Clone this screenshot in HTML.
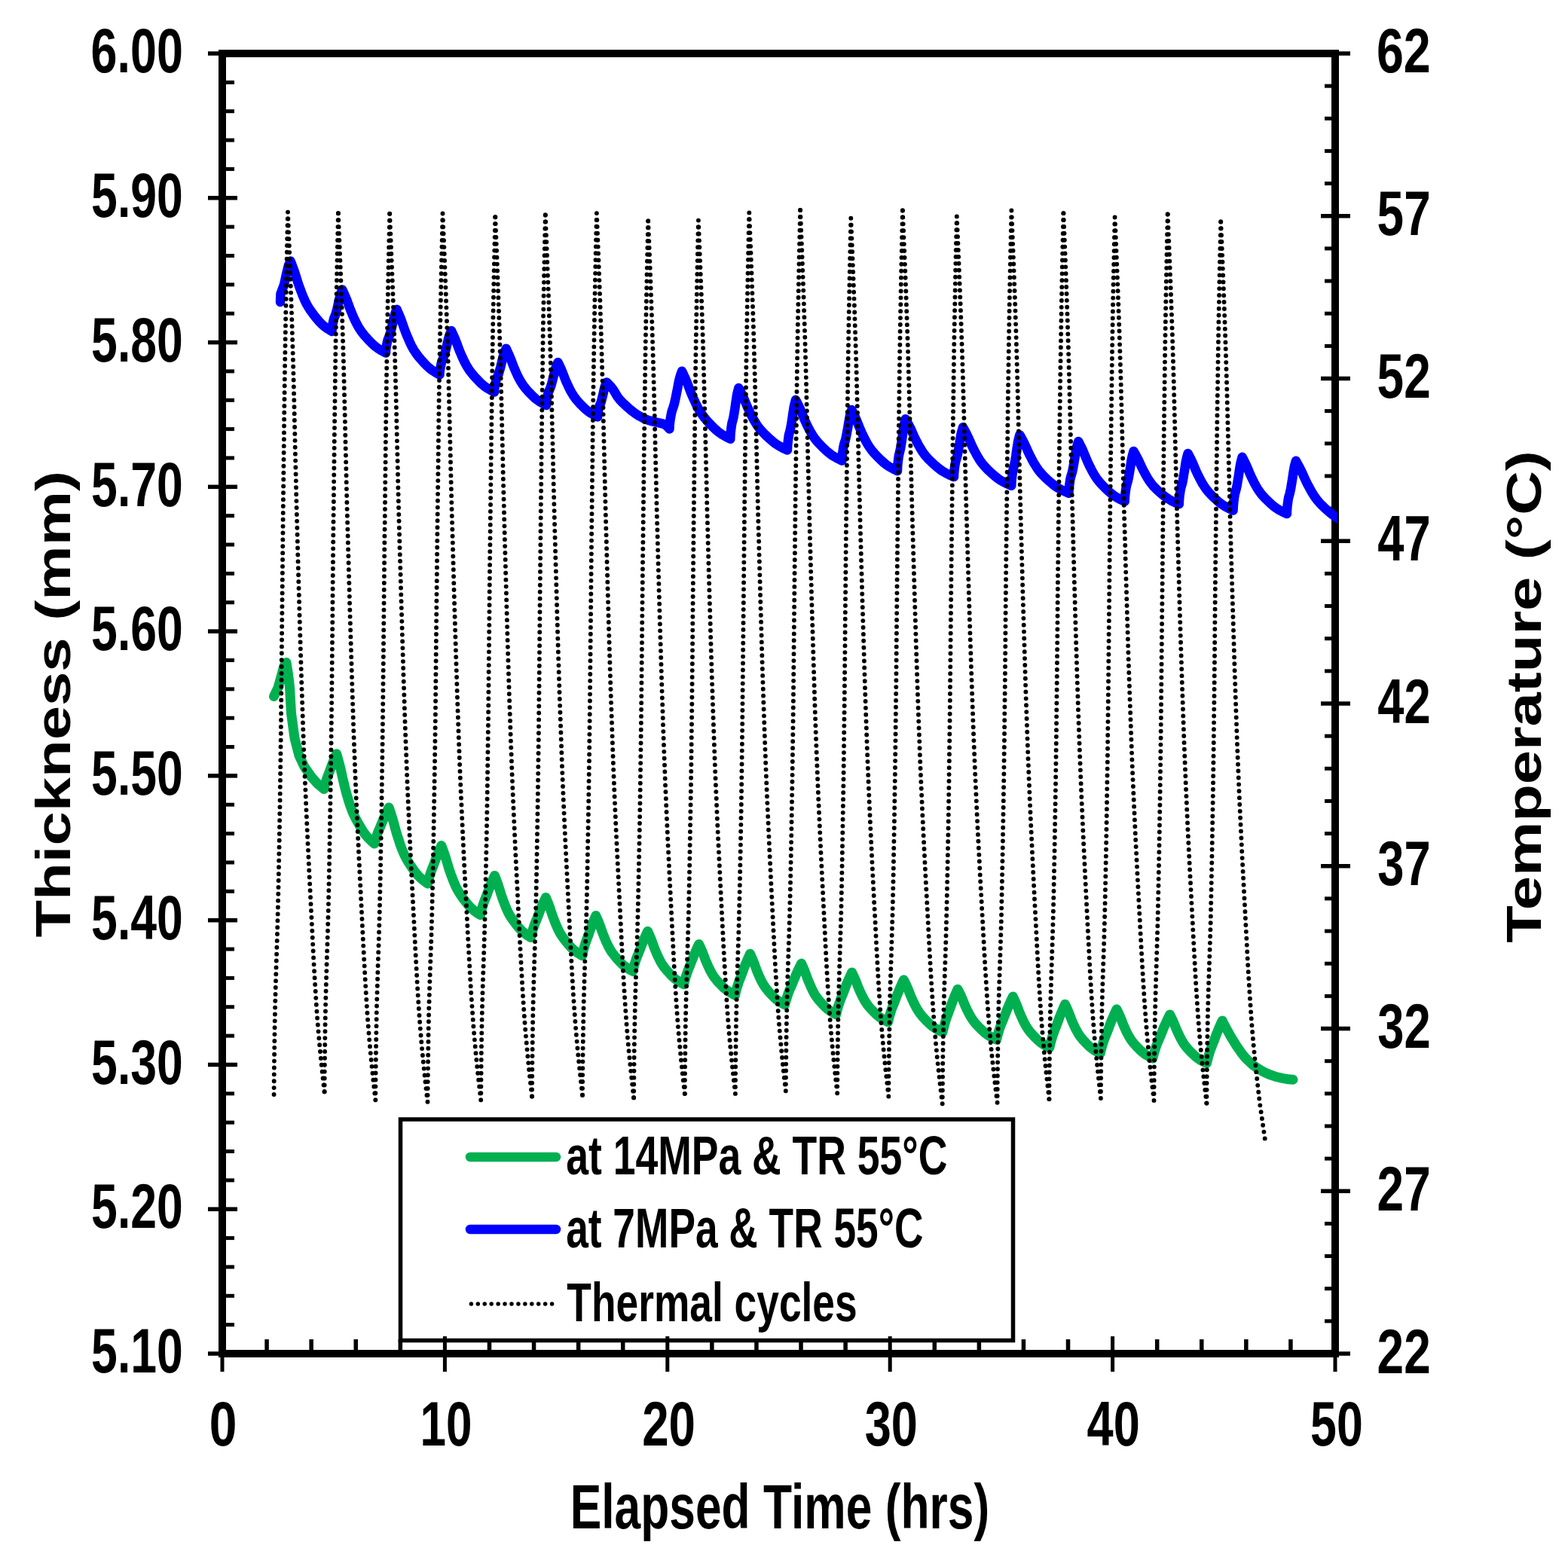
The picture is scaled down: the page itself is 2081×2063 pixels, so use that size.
<!DOCTYPE html>
<html><head><meta charset="utf-8"><title>Thickness vs Elapsed Time</title>
<style>html,body{margin:0;padding:0;background:#fff;overflow:hidden}svg{display:block}</style></head><body>
<svg width="2081" height="2063" viewBox="0 0 2081 2063">
<rect width="2081" height="2063" fill="#fff"/>
<defs><clipPath id="pc"><rect x="295" y="71" width="1479.7" height="1726"/></clipPath></defs>
<rect x="295.0" y="71.0" width="1477.0" height="1726.0" fill="none" stroke="#000" stroke-width="10"/>
<g fill="#000">
<rect x="276" y="68.25" width="39" height="5.5"/>
<rect x="276" y="260.03" width="39" height="5.5"/>
<rect x="276" y="451.81" width="39" height="5.5"/>
<rect x="276" y="643.58" width="39" height="5.5"/>
<rect x="276" y="835.36" width="39" height="5.5"/>
<rect x="276" y="1027.14" width="39" height="5.5"/>
<rect x="276" y="1218.92" width="39" height="5.5"/>
<rect x="276" y="1410.69" width="39" height="5.5"/>
<rect x="276" y="1602.47" width="39" height="5.5"/>
<rect x="276" y="1794.25" width="39" height="5.5"/>
<rect x="295" y="106.86" width="16" height="5"/>
<rect x="295" y="145.21" width="16" height="5"/>
<rect x="295" y="183.57" width="16" height="5"/>
<rect x="295" y="221.92" width="16" height="5"/>
<rect x="295" y="298.63" width="16" height="5"/>
<rect x="295" y="336.99" width="16" height="5"/>
<rect x="295" y="375.34" width="16" height="5"/>
<rect x="295" y="413.70" width="16" height="5"/>
<rect x="295" y="490.41" width="16" height="5"/>
<rect x="295" y="528.77" width="16" height="5"/>
<rect x="295" y="567.12" width="16" height="5"/>
<rect x="295" y="605.48" width="16" height="5"/>
<rect x="295" y="682.19" width="16" height="5"/>
<rect x="295" y="720.54" width="16" height="5"/>
<rect x="295" y="758.90" width="16" height="5"/>
<rect x="295" y="797.26" width="16" height="5"/>
<rect x="295" y="873.97" width="16" height="5"/>
<rect x="295" y="912.32" width="16" height="5"/>
<rect x="295" y="950.68" width="16" height="5"/>
<rect x="295" y="989.03" width="16" height="5"/>
<rect x="295" y="1065.74" width="16" height="5"/>
<rect x="295" y="1104.10" width="16" height="5"/>
<rect x="295" y="1142.46" width="16" height="5"/>
<rect x="295" y="1180.81" width="16" height="5"/>
<rect x="295" y="1257.52" width="16" height="5"/>
<rect x="295" y="1295.88" width="16" height="5"/>
<rect x="295" y="1334.23" width="16" height="5"/>
<rect x="295" y="1372.59" width="16" height="5"/>
<rect x="295" y="1449.30" width="16" height="5"/>
<rect x="295" y="1487.66" width="16" height="5"/>
<rect x="295" y="1526.01" width="16" height="5"/>
<rect x="295" y="1564.37" width="16" height="5"/>
<rect x="295" y="1641.08" width="16" height="5"/>
<rect x="295" y="1679.43" width="16" height="5"/>
<rect x="295" y="1717.79" width="16" height="5"/>
<rect x="295" y="1756.14" width="16" height="5"/>
<rect x="1753" y="68.25" width="39" height="5.5"/>
<rect x="1753" y="284.00" width="39" height="5.5"/>
<rect x="1753" y="499.75" width="39" height="5.5"/>
<rect x="1753" y="715.50" width="39" height="5.5"/>
<rect x="1753" y="931.25" width="39" height="5.5"/>
<rect x="1753" y="1147.00" width="39" height="5.5"/>
<rect x="1753" y="1362.75" width="39" height="5.5"/>
<rect x="1753" y="1578.50" width="39" height="5.5"/>
<rect x="1753" y="1794.25" width="39" height="5.5"/>
<rect x="1758" y="111.65" width="14" height="5"/>
<rect x="1758" y="154.80" width="14" height="5"/>
<rect x="1758" y="197.95" width="14" height="5"/>
<rect x="1758" y="241.10" width="14" height="5"/>
<rect x="1758" y="327.40" width="14" height="5"/>
<rect x="1758" y="370.55" width="14" height="5"/>
<rect x="1758" y="413.70" width="14" height="5"/>
<rect x="1758" y="456.85" width="14" height="5"/>
<rect x="1758" y="543.15" width="14" height="5"/>
<rect x="1758" y="586.30" width="14" height="5"/>
<rect x="1758" y="629.45" width="14" height="5"/>
<rect x="1758" y="672.60" width="14" height="5"/>
<rect x="1758" y="758.90" width="14" height="5"/>
<rect x="1758" y="802.05" width="14" height="5"/>
<rect x="1758" y="845.20" width="14" height="5"/>
<rect x="1758" y="888.35" width="14" height="5"/>
<rect x="1758" y="974.65" width="14" height="5"/>
<rect x="1758" y="1017.80" width="14" height="5"/>
<rect x="1758" y="1060.95" width="14" height="5"/>
<rect x="1758" y="1104.10" width="14" height="5"/>
<rect x="1758" y="1190.40" width="14" height="5"/>
<rect x="1758" y="1233.55" width="14" height="5"/>
<rect x="1758" y="1276.70" width="14" height="5"/>
<rect x="1758" y="1319.85" width="14" height="5"/>
<rect x="1758" y="1406.15" width="14" height="5"/>
<rect x="1758" y="1449.30" width="14" height="5"/>
<rect x="1758" y="1492.45" width="14" height="5"/>
<rect x="1758" y="1535.60" width="14" height="5"/>
<rect x="1758" y="1621.90" width="14" height="5"/>
<rect x="1758" y="1665.05" width="14" height="5"/>
<rect x="1758" y="1708.20" width="14" height="5"/>
<rect x="1758" y="1751.35" width="14" height="5"/>
</g>
<g clip-path="url(#pc)" fill="none" stroke-linejoin="round">
<path d="M372.0,401.0 L372.5,390.0 L377.0,378.0 L380.0,364.0 L383.0,352.0 L385.5,346.5 L386.8,349.7 L388.0,352.9 L389.2,356.2 L390.4,359.4 L391.5,362.6 L392.5,365.8 L393.5,369.1 L394.5,372.3 L395.5,375.5 L396.6,378.7 L397.8,382.0 L399.0,385.2 L400.2,388.4 L401.4,391.6 L402.8,394.9 L404.2,398.1 L405.7,401.3 L407.4,404.5 L409.3,407.8 L411.3,411.0 L413.6,414.2 L416.0,417.4 L418.5,420.7 L421.1,423.9 L423.9,427.1 L427.1,430.3 L430.8,433.6 L435.4,436.8 L440.5,440.0 L440.6,437.1 L440.9,434.2 L441.4,431.2 L441.9,428.3 L442.5,425.4 L443.3,422.5 L444.5,419.6 L445.6,416.6 L446.4,413.7 L447.2,410.8 L447.9,407.9 L448.5,404.9 L449.2,402.0 L449.8,399.1 L450.5,396.2 L451.2,393.3 L452.1,390.3 L453.1,387.4 L454.3,384.5 L455.6,387.4 L456.9,390.3 L458.2,393.2 L459.4,396.1 L460.6,399.0 L461.6,401.9 L462.7,404.8 L463.7,407.7 L464.8,410.6 L466.0,413.5 L467.2,416.4 L468.4,419.3 L469.7,422.2 L471.0,425.1 L472.4,427.9 L473.9,430.8 L475.5,433.7 L477.3,436.6 L479.2,439.5 L481.4,442.4 L483.7,445.3 L486.3,448.2 L488.9,451.1 L491.7,454.0 L494.6,456.9 L497.9,459.8 L501.9,462.7 L506.6,465.6 L512.0,468.5 L512.1,465.5 L512.4,462.4 L512.9,459.4 L513.5,456.3 L514.1,453.3 L515.0,450.2 L516.2,447.2 L517.4,444.2 L518.3,441.1 L519.1,438.1 L519.8,435.0 L520.5,432.0 L521.2,429.0 L521.9,425.9 L522.6,422.9 L523.3,419.8 L524.2,416.8 L525.3,413.7 L526.6,410.7 L527.9,413.7 L529.2,416.7 L530.5,419.7 L531.7,422.7 L532.8,425.7 L533.8,428.7 L534.9,431.7 L535.9,434.6 L537.0,437.6 L538.1,440.6 L539.3,443.6 L540.5,446.6 L541.8,449.6 L543.1,452.6 L544.5,455.6 L545.9,458.6 L547.5,461.6 L549.2,464.6 L551.2,467.6 L553.3,470.6 L555.6,473.6 L558.1,476.5 L560.7,479.5 L563.4,482.5 L566.3,485.5 L569.6,488.5 L573.5,491.5 L578.2,494.5 L583.5,497.5 L583.6,494.4 L584.0,491.3 L584.5,488.3 L585.1,485.2 L585.7,482.1 L586.7,479.0 L588.0,475.9 L589.2,472.9 L590.2,469.8 L591.0,466.7 L591.8,463.6 L592.5,460.6 L593.3,457.5 L594.0,454.4 L594.7,451.3 L595.5,448.2 L596.5,445.2 L597.7,442.1 L599.0,439.0 L600.3,441.8 L601.6,444.6 L602.9,447.4 L604.1,450.2 L605.2,453.1 L606.3,455.9 L607.3,458.7 L608.3,461.5 L609.4,464.3 L610.5,467.1 L611.7,469.9 L612.9,472.7 L614.2,475.5 L615.5,478.3 L616.9,481.2 L618.4,484.0 L620.0,486.8 L621.7,489.6 L623.6,492.4 L625.8,495.2 L628.1,498.0 L630.6,500.8 L633.2,503.6 L635.9,506.4 L638.8,509.3 L642.1,512.1 L646.0,514.9 L650.7,517.7 L656.0,520.5 L656.1,517.5 L656.5,514.4 L657.0,511.4 L657.6,508.3 L658.3,505.3 L659.2,502.2 L660.5,499.2 L661.8,496.2 L662.7,493.1 L663.6,490.1 L664.4,487.0 L665.1,484.0 L665.9,481.0 L666.6,477.9 L667.3,474.9 L668.2,471.8 L669.1,468.8 L670.3,465.7 L671.7,462.7 L672.9,465.3 L674.1,467.9 L675.3,470.5 L676.4,473.1 L677.5,475.7 L678.5,478.3 L679.5,480.9 L680.4,483.5 L681.4,486.1 L682.5,488.7 L683.6,491.3 L684.7,493.9 L685.9,496.5 L687.1,499.1 L688.4,501.6 L689.8,504.2 L691.3,506.8 L692.9,509.4 L694.7,512.0 L696.7,514.6 L698.9,517.2 L701.2,519.8 L703.7,522.4 L706.2,525.0 L708.9,527.6 L712.0,530.2 L715.6,532.8 L720.0,535.4 L725.0,538.0 L725.1,535.0 L725.5,532.0 L726.0,529.0 L726.6,526.0 L727.2,523.0 L728.2,520.0 L729.5,517.0 L730.7,514.0 L731.7,511.0 L732.5,508.0 L733.3,505.0 L734.0,502.0 L734.8,499.0 L735.5,496.0 L736.2,493.0 L737.0,490.0 L738.0,487.0 L739.2,484.0 L740.5,481.0 L741.7,483.5 L742.9,486.0 L744.1,488.5 L745.2,491.0 L746.2,493.5 L747.2,496.0 L748.2,498.5 L749.1,501.0 L750.1,503.5 L751.1,506.0 L752.3,508.5 L753.4,511.0 L754.6,513.5 L755.8,516.0 L757.0,518.4 L758.4,520.9 L759.9,523.4 L761.5,525.9 L763.3,528.4 L765.2,530.9 L767.4,533.4 L769.7,535.9 L772.1,538.4 L774.6,540.9 L777.3,543.4 L780.4,545.9 L783.9,548.4 L788.3,550.9 L793.2,553.4 L793.3,551.0 L793.6,548.6 L793.9,546.2 L794.4,543.7 L794.9,541.3 L795.6,538.9 L796.6,536.5 L797.6,534.1 L798.3,531.7 L798.9,529.2 L799.5,526.8 L800.1,524.4 L800.7,522.0 L801.2,519.6 L801.7,517.2 L802.3,514.7 L803.1,512.3 L804.0,509.9 L805.0,507.5 L807.1,509.4 L809.3,511.6 L811.4,514.0 L813.6,516.8 L815.7,520.1 L817.8,523.8 L820.0,527.3 L822.1,530.1 L824.3,532.4 L826.4,534.6 L828.6,536.6 L830.7,538.6 L832.8,540.6 L835.0,542.5 L837.1,544.3 L839.3,546.0 L841.4,547.6 L843.5,549.1 L845.7,550.6 L847.8,551.9 L850.0,553.1 L852.1,554.3 L854.2,555.4 L856.4,556.4 L858.5,557.2 L860.7,558.0 L862.8,558.6 L864.9,559.2 L867.1,559.8 L869.2,560.2 L871.4,560.7 L873.5,561.1 L875.7,561.6 L877.8,562.2 L879.9,562.7 L882.1,563.5 L884.2,564.9 L886.4,567.0 L888.5,569.5 L888.6,565.5 L889.0,561.4 L889.5,557.4 L890.2,553.3 L890.9,549.3 L891.9,545.2 L893.3,541.2 L894.6,537.2 L895.6,533.1 L896.5,529.1 L897.3,525.0 L898.1,521.0 L898.9,517.0 L899.7,512.9 L900.4,508.9 L901.3,504.8 L902.3,500.8 L903.6,496.7 L905.0,492.7 L906.5,495.8 L907.9,498.9 L909.4,502.0 L910.7,505.1 L912.0,508.2 L913.2,511.3 L914.4,514.4 L915.5,517.6 L916.7,520.7 L918.0,523.8 L919.3,526.9 L920.7,530.0 L922.2,533.1 L923.6,536.2 L925.2,539.3 L926.8,542.4 L928.6,545.5 L930.6,548.6 L932.8,551.7 L935.2,554.8 L937.8,557.9 L940.6,561.1 L943.6,564.2 L946.6,567.3 L949.9,570.4 L953.6,573.5 L958.0,576.6 L963.3,579.7 L969.3,582.8 L969.4,579.2 L969.6,575.7 L970.0,572.1 L970.4,568.5 L970.9,565.0 L971.5,561.4 L972.5,557.8 L973.4,554.3 L974.0,550.7 L974.6,547.1 L975.2,543.5 L975.7,540.0 L976.2,536.4 L976.7,532.8 L977.3,529.3 L977.8,525.7 L978.5,522.1 L979.4,518.6 L980.3,515.0 L981.8,517.8 L983.3,520.7 L984.7,523.5 L986.0,526.4 L987.3,529.2 L988.5,532.1 L989.7,534.9 L990.9,537.8 L992.1,540.6 L993.4,543.4 L994.7,546.3 L996.1,549.1 L997.6,552.0 L999.0,554.8 L1000.6,557.7 L1002.3,560.5 L1004.1,563.4 L1006.0,566.2 L1008.2,569.1 L1010.7,571.9 L1013.3,574.7 L1016.1,577.6 L1019.1,580.4 L1022.2,583.3 L1025.5,586.1 L1029.2,589.0 L1033.6,591.8 L1038.9,594.7 L1045.0,597.5 L1045.1,594.0 L1045.3,590.5 L1045.7,587.0 L1046.1,583.5 L1046.6,579.9 L1047.2,576.4 L1048.2,572.9 L1049.1,569.4 L1049.7,565.9 L1050.3,562.4 L1050.9,558.9 L1051.4,555.4 L1051.9,551.9 L1052.4,548.4 L1053.0,544.8 L1053.5,541.3 L1054.2,537.8 L1055.1,534.3 L1056.0,530.8 L1057.4,533.6 L1058.8,536.4 L1060.2,539.1 L1061.5,541.9 L1062.7,544.7 L1063.8,547.5 L1064.9,550.3 L1066.1,553.1 L1067.2,555.8 L1068.4,558.6 L1069.7,561.4 L1071.0,564.2 L1072.4,567.0 L1073.8,569.8 L1075.3,572.5 L1076.9,575.3 L1078.6,578.1 L1080.5,580.9 L1082.6,583.7 L1084.9,586.5 L1087.4,589.2 L1090.1,592.0 L1092.9,594.8 L1095.8,597.6 L1099.0,600.4 L1102.5,603.2 L1106.7,605.9 L1111.7,608.7 L1117.5,611.5 L1117.6,607.9 L1117.9,604.4 L1118.3,600.8 L1118.8,597.3 L1119.3,593.7 L1120.1,590.2 L1121.2,586.6 L1122.2,583.1 L1123.0,579.5 L1123.7,576.0 L1124.3,572.4 L1125.0,568.9 L1125.6,565.3 L1126.2,561.8 L1126.8,558.2 L1127.4,554.7 L1128.2,551.1 L1129.2,547.6 L1130.3,544.0 L1131.7,546.8 L1133.1,549.6 L1134.4,552.4 L1135.7,555.2 L1136.9,558.0 L1138.0,560.8 L1139.1,563.6 L1140.2,566.4 L1141.4,569.2 L1142.6,572.0 L1143.8,574.8 L1145.2,577.6 L1146.5,580.4 L1147.9,583.2 L1149.4,586.0 L1150.9,588.8 L1152.6,591.6 L1154.5,594.4 L1156.5,597.2 L1158.8,600.0 L1161.3,602.8 L1163.9,605.6 L1166.7,608.4 L1169.6,611.2 L1172.7,614.0 L1176.2,616.8 L1180.3,619.6 L1185.3,622.4 L1191.0,625.2 L1191.1,621.6 L1191.3,617.9 L1191.7,614.3 L1192.1,610.7 L1192.6,607.0 L1193.2,603.4 L1194.1,599.8 L1195.0,596.1 L1195.6,592.5 L1196.2,588.9 L1196.8,585.3 L1197.3,581.6 L1197.8,578.0 L1198.3,574.4 L1198.8,570.7 L1199.4,567.1 L1200.0,563.5 L1200.9,559.8 L1201.8,556.2 L1203.3,558.8 L1204.7,561.5 L1206.1,564.1 L1207.5,566.8 L1208.8,569.4 L1210.0,572.1 L1211.1,574.7 L1212.3,577.4 L1213.5,580.0 L1214.8,582.7 L1216.1,585.3 L1217.5,588.0 L1218.9,590.6 L1220.4,593.3 L1222.0,595.9 L1223.6,598.6 L1225.4,601.2 L1227.3,603.9 L1229.5,606.5 L1231.9,609.2 L1234.6,611.8 L1237.4,614.5 L1240.3,617.1 L1243.4,619.8 L1246.6,622.4 L1250.3,625.1 L1254.7,627.7 L1260.0,630.4 L1266.0,633.0 L1266.1,629.5 L1266.4,626.1 L1266.7,622.6 L1267.2,619.1 L1267.7,615.7 L1268.4,612.2 L1269.5,608.8 L1270.4,605.3 L1271.2,601.8 L1271.8,598.4 L1272.4,594.9 L1273.0,591.4 L1273.6,588.0 L1274.1,584.5 L1274.7,581.1 L1275.3,577.6 L1276.0,574.1 L1277.0,570.7 L1278.0,567.2 L1279.5,569.9 L1280.9,572.6 L1282.4,575.2 L1283.7,577.9 L1285.0,580.6 L1286.2,583.3 L1287.4,585.9 L1288.5,588.6 L1289.7,591.3 L1291.0,594.0 L1292.3,596.6 L1293.7,599.3 L1295.2,602.0 L1296.6,604.7 L1298.2,607.3 L1299.8,610.0 L1301.6,612.7 L1303.6,615.4 L1305.8,618.0 L1308.2,620.7 L1310.8,623.4 L1313.6,626.1 L1316.6,628.7 L1319.6,631.4 L1322.9,634.1 L1326.6,636.8 L1331.0,639.4 L1336.3,642.1 L1342.3,644.8 L1342.4,641.2 L1342.6,637.7 L1343.0,634.1 L1343.4,630.6 L1343.9,627.0 L1344.5,623.5 L1345.5,619.9 L1346.4,616.3 L1347.0,612.8 L1347.6,609.2 L1348.2,605.7 L1348.7,602.1 L1349.2,598.5 L1349.7,595.0 L1350.3,591.4 L1350.8,587.9 L1351.5,584.3 L1352.4,580.8 L1353.3,577.2 L1354.8,579.9 L1356.3,582.6 L1357.7,585.2 L1359.1,587.9 L1360.4,590.6 L1361.6,593.3 L1362.8,595.9 L1364.0,598.6 L1365.2,601.3 L1366.5,604.0 L1367.9,606.6 L1369.3,609.3 L1370.7,612.0 L1372.2,614.7 L1373.8,617.3 L1375.5,620.0 L1377.3,622.7 L1379.2,625.4 L1381.5,628.0 L1383.9,630.7 L1386.6,633.4 L1389.4,636.1 L1392.4,638.7 L1395.5,641.4 L1398.8,644.1 L1402.6,646.8 L1407.0,649.4 L1412.4,652.1 L1418.5,654.8 L1418.6,651.2 L1418.9,647.6 L1419.3,643.9 L1419.8,640.3 L1420.3,636.7 L1421.1,633.1 L1422.2,629.5 L1423.2,625.8 L1424.0,622.2 L1424.6,618.6 L1425.3,615.0 L1425.9,611.3 L1426.5,607.7 L1427.1,604.1 L1427.7,600.5 L1428.3,596.9 L1429.1,593.2 L1430.1,589.6 L1431.2,586.0 L1432.6,588.7 L1434.0,591.5 L1435.4,594.2 L1436.7,597.0 L1437.9,599.7 L1439.0,602.5 L1440.1,605.2 L1441.3,608.0 L1442.4,610.7 L1443.6,613.5 L1444.9,616.2 L1446.2,619.0 L1447.6,621.7 L1449.0,624.5 L1450.5,627.2 L1452.1,630.0 L1453.8,632.7 L1455.7,635.5 L1457.8,638.2 L1460.1,641.0 L1462.6,643.7 L1465.3,646.5 L1468.1,649.2 L1471.0,652.0 L1474.2,654.7 L1477.7,657.5 L1481.9,660.2 L1486.9,663.0 L1492.7,665.7 L1492.8,662.2 L1493.1,658.7 L1493.4,655.2 L1493.9,651.7 L1494.4,648.1 L1495.1,644.6 L1496.1,641.1 L1497.1,637.6 L1497.8,634.1 L1498.4,630.6 L1499.0,627.1 L1499.6,623.6 L1500.2,620.1 L1500.7,616.6 L1501.2,613.0 L1501.8,609.5 L1502.6,606.0 L1503.5,602.5 L1504.5,599.0 L1505.9,601.4 L1507.3,603.8 L1508.6,606.3 L1509.9,608.7 L1511.1,611.1 L1512.2,613.5 L1513.3,616.0 L1514.4,618.4 L1515.5,620.8 L1516.7,623.2 L1518.0,625.7 L1519.3,628.1 L1520.6,630.5 L1522.0,632.9 L1523.4,635.4 L1525.0,637.8 L1526.7,640.2 L1528.5,642.6 L1530.5,645.1 L1532.8,647.5 L1535.3,649.9 L1537.9,652.3 L1540.7,654.8 L1543.5,657.2 L1546.6,659.6 L1550.1,662.0 L1554.2,664.5 L1559.2,666.9 L1564.8,669.3 L1564.9,665.8 L1565.2,662.2 L1565.5,658.7 L1566.0,655.1 L1566.5,651.6 L1567.2,648.0 L1568.2,644.5 L1569.2,641.0 L1569.9,637.4 L1570.5,633.9 L1571.1,630.3 L1571.7,626.8 L1572.3,623.3 L1572.8,619.7 L1573.3,616.2 L1573.9,612.6 L1574.7,609.1 L1575.6,605.5 L1576.6,602.0 L1578.0,604.6 L1579.3,607.2 L1580.7,609.8 L1581.9,612.4 L1583.1,615.0 L1584.2,617.6 L1585.3,620.2 L1586.4,622.9 L1587.5,625.5 L1588.7,628.1 L1590.0,630.7 L1591.3,633.3 L1592.6,635.9 L1594.0,638.5 L1595.4,641.1 L1597.0,643.7 L1598.7,646.3 L1600.5,648.9 L1602.5,651.5 L1604.8,654.1 L1607.2,656.7 L1609.8,659.4 L1612.6,662.0 L1615.4,664.6 L1618.5,667.2 L1622.0,669.8 L1626.1,672.4 L1631.0,675.0 L1636.6,677.6 L1636.7,673.9 L1637.0,670.1 L1637.3,666.4 L1637.8,662.7 L1638.3,659.0 L1639.0,655.2 L1640.1,651.5 L1641.0,647.8 L1641.8,644.1 L1642.4,640.3 L1643.0,636.6 L1643.6,632.9 L1644.2,629.2 L1644.7,625.4 L1645.3,621.7 L1645.9,618.0 L1646.6,614.3 L1647.6,610.5 L1648.6,606.8 L1650.0,609.4 L1651.3,612.0 L1652.6,614.6 L1653.9,617.2 L1655.0,619.8 L1656.2,622.4 L1657.2,625.0 L1658.3,627.6 L1659.4,630.2 L1660.6,632.8 L1661.8,635.4 L1663.1,638.0 L1664.4,640.6 L1665.8,643.2 L1667.2,645.7 L1668.7,648.3 L1670.4,650.9 L1672.2,653.5 L1674.2,656.1 L1676.4,658.7 L1678.9,661.3 L1681.5,663.9 L1684.2,666.5 L1687.0,669.1 L1690.0,671.7 L1693.4,674.3 L1697.5,676.9 L1702.4,679.5 L1707.9,682.1 L1708.0,678.4 L1708.3,674.7 L1708.6,671.0 L1709.1,667.3 L1709.6,663.6 L1710.3,659.9 L1711.4,656.2 L1712.3,652.5 L1713.1,648.8 L1713.7,645.1 L1714.3,641.4 L1714.9,637.7 L1715.5,634.0 L1716.0,630.3 L1716.6,626.6 L1717.2,622.9 L1717.9,619.2 L1718.9,615.5 L1719.9,611.8 L1721.5,614.7 L1723.1,617.5 L1724.6,620.4 L1726.1,623.3 L1727.5,626.1 L1728.8,629.0 L1730.1,631.9 L1731.4,634.8 L1732.7,637.6 L1734.1,640.5 L1735.5,643.4 L1737.1,646.2 L1738.6,649.1 L1740.2,652.0 L1741.9,654.8 L1743.7,657.7 L1745.7,660.6 L1747.8,663.4 L1750.2,666.3 L1752.8,669.2 L1755.7,672.0 L1758.7,674.9 L1761.9,677.8 L1765.3,680.7 L1768.9,683.5 L1772.9,686.4 L1777.7,689.3 L1783.4,692.1 L1790.0,695.0" stroke="#0000FF" stroke-width="12.5" stroke-linecap="round"/>
<path d="M363.5,924.5 L369.0,913.0 L373.5,897.0 L377.0,884.0 L380.0,879.5 L382.5,895.0 L384.5,912.0 L386.5,947.0 L391.0,980.0 L397.0,1003.0 L404.0,1018.0 L413.0,1031.0 L421.0,1040.0 L430.0,1047.6 L430.5,1045.1 L431.1,1042.7 L431.8,1040.2 L432.5,1037.7 L433.2,1035.3 L434.1,1032.8 L435.0,1030.4 L435.9,1027.9 L436.9,1025.4 L437.8,1023.0 L438.7,1020.5 L439.6,1018.0 L440.5,1015.6 L441.4,1013.1 L442.4,1010.7 L443.5,1008.2 L444.5,1005.7 L445.6,1003.3 L446.7,1000.8 L447.9,1004.9 L449.0,1009.0 L450.1,1013.1 L451.2,1017.3 L452.2,1021.4 L453.1,1025.5 L454.0,1029.6 L454.9,1033.7 L455.9,1037.8 L456.9,1041.9 L457.9,1046.1 L459.0,1050.2 L460.1,1054.3 L461.3,1058.4 L462.5,1062.5 L463.8,1066.6 L465.2,1070.7 L466.7,1074.8 L468.4,1079.0 L470.3,1083.1 L472.4,1087.2 L474.6,1091.3 L476.9,1095.4 L479.3,1099.5 L481.8,1103.6 L484.7,1107.8 L488.2,1111.9 L492.3,1116.0 L497.0,1120.1 L497.6,1117.6 L498.3,1115.0 L499.1,1112.5 L499.9,1110.0 L500.7,1107.4 L501.6,1104.9 L502.7,1102.3 L503.8,1099.8 L504.9,1097.3 L505.9,1094.7 L506.9,1092.2 L508.0,1089.7 L509.0,1087.1 L510.1,1084.6 L511.2,1082.0 L512.4,1079.5 L513.6,1077.0 L514.8,1074.4 L516.1,1071.9 L517.3,1075.4 L518.5,1078.9 L519.6,1082.4 L520.7,1085.8 L521.7,1089.3 L522.7,1092.8 L523.6,1096.3 L524.5,1099.8 L525.5,1103.3 L526.5,1106.8 L527.6,1110.2 L528.7,1113.7 L529.9,1117.2 L531.0,1120.7 L532.3,1124.2 L533.6,1127.7 L535.1,1131.2 L536.6,1134.7 L538.4,1138.1 L540.3,1141.6 L542.4,1145.1 L544.7,1148.6 L547.0,1152.1 L549.5,1155.6 L552.1,1159.1 L555.1,1162.5 L558.6,1166.0 L562.9,1169.5 L567.7,1173.0 L568.3,1170.3 L568.9,1167.7 L569.6,1165.0 L570.4,1162.4 L571.2,1159.7 L572.1,1157.1 L573.1,1154.4 L574.1,1151.8 L575.2,1149.1 L576.2,1146.5 L577.1,1143.8 L578.1,1141.2 L579.1,1138.5 L580.1,1135.9 L581.2,1133.2 L582.3,1130.6 L583.4,1127.9 L584.6,1125.3 L585.8,1122.6 L587.0,1125.8 L588.2,1129.0 L589.3,1132.1 L590.4,1135.3 L591.4,1138.5 L592.4,1141.7 L593.3,1144.8 L594.3,1148.0 L595.2,1151.2 L596.2,1154.4 L597.3,1157.5 L598.4,1160.7 L599.6,1163.9 L600.8,1167.1 L602.0,1170.2 L603.4,1173.4 L604.8,1176.6 L606.4,1179.8 L608.1,1182.9 L610.1,1186.1 L612.2,1189.3 L614.4,1192.5 L616.8,1195.6 L619.3,1198.8 L621.9,1202.0 L624.9,1205.2 L628.4,1208.3 L632.7,1211.5 L637.5,1214.7 L638.1,1211.9 L638.8,1209.2 L639.5,1206.4 L640.3,1203.7 L641.2,1200.9 L642.1,1198.2 L643.1,1195.4 L644.2,1192.7 L645.3,1189.9 L646.4,1187.2 L647.4,1184.4 L648.4,1181.7 L649.5,1178.9 L650.5,1176.2 L651.6,1173.4 L652.8,1170.7 L654.0,1167.9 L655.2,1165.2 L656.5,1162.4 L657.6,1165.2 L658.7,1168.1 L659.7,1170.9 L660.8,1173.7 L661.7,1176.6 L662.6,1179.4 L663.5,1182.2 L664.3,1185.0 L665.2,1187.9 L666.2,1190.7 L667.2,1193.5 L668.2,1196.4 L669.3,1199.2 L670.4,1202.0 L671.6,1204.9 L672.8,1207.7 L674.1,1210.5 L675.6,1213.4 L677.2,1216.2 L679.0,1219.0 L681.0,1221.9 L683.1,1224.7 L685.3,1227.5 L687.6,1230.3 L690.0,1233.2 L692.8,1236.0 L696.1,1238.8 L700.0,1241.7 L704.5,1244.5 L705.1,1241.7 L705.9,1238.9 L706.6,1236.1 L707.5,1233.3 L708.4,1230.5 L709.3,1227.7 L710.4,1224.9 L711.6,1222.1 L712.7,1219.3 L713.8,1216.6 L714.9,1213.8 L715.9,1211.0 L717.0,1208.2 L718.1,1205.4 L719.3,1202.6 L720.5,1199.8 L721.8,1197.0 L723.1,1194.2 L724.4,1191.4 L725.5,1194.1 L726.6,1196.7 L727.7,1199.4 L728.7,1202.0 L729.6,1204.7 L730.6,1207.4 L731.4,1210.0 L732.3,1212.7 L733.2,1215.4 L734.2,1218.0 L735.2,1220.7 L736.2,1223.3 L737.3,1226.0 L738.4,1228.7 L739.6,1231.3 L740.8,1234.0 L742.2,1236.7 L743.6,1239.3 L745.3,1242.0 L747.1,1244.6 L749.1,1247.3 L751.2,1250.0 L753.4,1252.6 L755.7,1255.3 L758.1,1258.0 L760.9,1260.6 L764.2,1263.3 L768.2,1265.9 L772.7,1268.6 L773.3,1265.8 L773.9,1263.0 L774.6,1260.2 L775.4,1257.4 L776.2,1254.6 L777.1,1251.8 L778.1,1249.0 L779.1,1246.2 L780.2,1243.4 L781.2,1240.7 L782.1,1237.9 L783.1,1235.1 L784.1,1232.3 L785.1,1229.5 L786.2,1226.7 L787.3,1223.9 L788.4,1221.1 L789.6,1218.3 L790.8,1215.5 L791.9,1218.0 L793.0,1220.6 L794.1,1223.1 L795.1,1225.7 L796.1,1228.2 L797.0,1230.8 L797.9,1233.3 L798.8,1235.9 L799.7,1238.4 L800.7,1241.0 L801.7,1243.5 L802.8,1246.1 L803.8,1248.6 L805.0,1251.2 L806.2,1253.7 L807.4,1256.3 L808.8,1258.8 L810.3,1261.4 L811.9,1263.9 L813.8,1266.5 L815.8,1269.0 L817.9,1271.6 L820.1,1274.1 L822.5,1276.7 L825.0,1279.2 L827.8,1281.8 L831.1,1284.3 L835.1,1286.9 L839.7,1289.4 L840.3,1286.6 L841.1,1283.8 L841.8,1281.0 L842.7,1278.2 L843.6,1275.4 L844.5,1272.6 L845.6,1269.8 L846.8,1267.0 L847.9,1264.2 L849.0,1261.5 L850.1,1258.7 L851.1,1255.9 L852.2,1253.1 L853.3,1250.3 L854.5,1247.5 L855.7,1244.7 L857.0,1241.9 L858.3,1239.1 L859.6,1236.3 L860.7,1238.7 L861.8,1241.2 L862.8,1243.6 L863.9,1246.0 L864.8,1248.4 L865.7,1250.9 L866.6,1253.3 L867.4,1255.7 L868.3,1258.1 L869.3,1260.6 L870.3,1263.0 L871.3,1265.4 L872.4,1267.9 L873.5,1270.3 L874.7,1272.7 L875.9,1275.1 L877.2,1277.6 L878.7,1280.0 L880.3,1282.4 L882.1,1284.9 L884.1,1287.3 L886.2,1289.7 L888.4,1292.1 L890.7,1294.6 L893.1,1297.0 L895.9,1299.4 L899.2,1301.8 L903.1,1304.3 L907.6,1306.7 L908.2,1303.9 L909.0,1301.1 L909.8,1298.3 L910.6,1295.5 L911.5,1292.7 L912.5,1289.9 L913.5,1287.1 L914.7,1284.3 L915.8,1281.5 L916.9,1278.7 L918.0,1275.9 L919.1,1273.1 L920.2,1270.3 L921.3,1267.5 L922.5,1264.7 L923.7,1261.9 L925.0,1259.1 L926.3,1256.3 L927.6,1253.5 L928.7,1255.8 L929.8,1258.2 L930.8,1260.5 L931.9,1262.8 L932.8,1265.2 L933.7,1267.5 L934.6,1269.8 L935.4,1272.1 L936.3,1274.5 L937.3,1276.8 L938.3,1279.1 L939.3,1281.5 L940.4,1283.8 L941.5,1286.1 L942.7,1288.5 L943.9,1290.8 L945.2,1293.1 L946.7,1295.5 L948.3,1297.8 L950.1,1300.1 L952.1,1302.5 L954.2,1304.8 L956.4,1307.1 L958.7,1309.4 L961.1,1311.8 L963.9,1314.1 L967.2,1316.4 L971.1,1318.8 L975.6,1321.1 L976.2,1318.2 L977.0,1315.3 L977.7,1312.4 L978.6,1309.5 L979.5,1306.7 L980.4,1303.8 L981.5,1300.9 L982.7,1298.0 L983.8,1295.1 L984.9,1292.2 L986.0,1289.3 L987.0,1286.4 L988.1,1283.5 L989.2,1280.6 L990.4,1277.8 L991.6,1274.9 L992.9,1272.0 L994.2,1269.1 L995.5,1266.2 L996.6,1268.5 L997.6,1270.9 L998.6,1273.2 L999.6,1275.5 L1000.5,1277.9 L1001.4,1280.2 L1002.2,1282.5 L1003.1,1284.8 L1003.9,1287.2 L1004.8,1289.5 L1005.8,1291.8 L1006.8,1294.2 L1007.8,1296.5 L1008.9,1298.8 L1010.0,1301.2 L1011.2,1303.5 L1012.5,1305.8 L1013.9,1308.2 L1015.5,1310.5 L1017.2,1312.8 L1019.1,1315.2 L1021.1,1317.5 L1023.2,1319.8 L1025.4,1322.1 L1027.8,1324.5 L1030.4,1326.8 L1033.6,1329.1 L1037.4,1331.5 L1041.7,1333.8 L1042.4,1330.9 L1043.2,1328.0 L1044.1,1325.2 L1045.0,1322.3 L1045.9,1319.4 L1047.0,1316.5 L1048.2,1313.6 L1049.5,1310.8 L1050.7,1307.9 L1051.9,1305.0 L1053.1,1302.1 L1054.3,1299.3 L1055.5,1296.4 L1056.7,1293.5 L1058.0,1290.6 L1059.3,1287.7 L1060.7,1284.9 L1062.1,1282.0 L1063.6,1279.1 L1064.7,1281.4 L1065.7,1283.8 L1066.7,1286.1 L1067.7,1288.4 L1068.6,1290.8 L1069.5,1293.1 L1070.3,1295.4 L1071.1,1297.7 L1072.0,1300.1 L1072.9,1302.4 L1073.9,1304.7 L1074.9,1307.1 L1075.9,1309.4 L1077.0,1311.7 L1078.1,1314.1 L1079.3,1316.4 L1080.5,1318.7 L1081.9,1321.1 L1083.5,1323.4 L1085.2,1325.7 L1087.1,1328.1 L1089.1,1330.4 L1091.2,1332.7 L1093.4,1335.0 L1095.8,1337.4 L1098.5,1339.7 L1101.6,1342.0 L1105.4,1344.4 L1109.7,1346.7 L1110.4,1343.8 L1111.1,1340.8 L1111.9,1337.9 L1112.8,1335.0 L1113.8,1332.0 L1114.8,1329.1 L1115.9,1326.1 L1117.1,1323.2 L1118.3,1320.3 L1119.5,1317.3 L1120.6,1314.4 L1121.7,1311.5 L1122.8,1308.5 L1124.0,1305.6 L1125.3,1302.6 L1126.5,1299.7 L1127.9,1296.8 L1129.2,1293.8 L1130.6,1290.9 L1131.7,1293.2 L1132.8,1295.4 L1133.8,1297.7 L1134.9,1300.0 L1135.8,1302.2 L1136.7,1304.5 L1137.6,1306.8 L1138.4,1309.1 L1139.3,1311.3 L1140.3,1313.6 L1141.3,1315.9 L1142.3,1318.1 L1143.4,1320.4 L1144.5,1322.7 L1145.7,1324.9 L1146.9,1327.2 L1148.2,1329.5 L1149.7,1331.7 L1151.3,1334.0 L1153.1,1336.3 L1155.1,1338.5 L1157.2,1340.8 L1159.4,1343.1 L1161.7,1345.4 L1164.1,1347.6 L1166.9,1349.9 L1170.2,1352.2 L1174.1,1354.4 L1178.6,1356.7 L1179.3,1353.8 L1180.0,1350.8 L1180.8,1347.9 L1181.7,1344.9 L1182.6,1342.0 L1183.6,1339.0 L1184.8,1336.1 L1186.0,1333.2 L1187.2,1330.2 L1188.3,1327.3 L1189.4,1324.3 L1190.5,1321.4 L1191.7,1318.5 L1192.9,1315.5 L1194.1,1312.6 L1195.4,1309.6 L1196.7,1306.7 L1198.0,1303.7 L1199.4,1300.8 L1200.6,1303.2 L1201.8,1305.6 L1202.9,1308.0 L1204.0,1310.4 L1205.0,1312.8 L1206.0,1315.2 L1206.9,1317.6 L1207.8,1320.0 L1208.8,1322.4 L1209.8,1324.8 L1210.9,1327.2 L1212.0,1329.6 L1213.2,1332.0 L1214.3,1334.4 L1215.6,1336.7 L1216.9,1339.1 L1218.4,1341.5 L1219.9,1343.9 L1221.7,1346.3 L1223.6,1348.7 L1225.7,1351.1 L1228.0,1353.5 L1230.3,1355.9 L1232.8,1358.3 L1235.4,1360.7 L1238.4,1363.1 L1241.9,1365.5 L1246.2,1367.9 L1251.0,1370.3 L1251.6,1367.3 L1252.4,1364.3 L1253.2,1361.3 L1254.0,1358.3 L1254.9,1355.3 L1255.9,1352.3 L1256.9,1349.3 L1258.1,1346.3 L1259.2,1343.3 L1260.3,1340.2 L1261.4,1337.2 L1262.5,1334.2 L1263.6,1331.2 L1264.7,1328.2 L1265.9,1325.2 L1267.1,1322.2 L1268.4,1319.2 L1269.7,1316.2 L1271.0,1313.2 L1272.2,1315.5 L1273.4,1317.8 L1274.5,1320.1 L1275.6,1322.4 L1276.6,1324.8 L1277.6,1327.1 L1278.5,1329.4 L1279.4,1331.7 L1280.4,1334.0 L1281.4,1336.3 L1282.5,1338.6 L1283.6,1340.9 L1284.8,1343.2 L1285.9,1345.5 L1287.2,1347.9 L1288.5,1350.2 L1290.0,1352.5 L1291.5,1354.8 L1293.3,1357.1 L1295.2,1359.4 L1297.3,1361.7 L1299.6,1364.0 L1301.9,1366.3 L1304.4,1368.6 L1307.0,1371.0 L1310.0,1373.3 L1313.5,1375.6 L1317.8,1377.9 L1322.6,1380.2 L1323.3,1377.2 L1324.1,1374.2 L1324.9,1371.2 L1325.8,1368.2 L1326.8,1365.1 L1327.9,1362.1 L1329.0,1359.1 L1330.3,1356.1 L1331.5,1353.1 L1332.7,1350.1 L1333.9,1347.1 L1335.1,1344.1 L1336.2,1341.1 L1337.5,1338.1 L1338.8,1335.0 L1340.1,1332.0 L1341.4,1329.0 L1342.9,1326.0 L1344.3,1323.0 L1345.4,1325.3 L1346.5,1327.7 L1347.6,1330.0 L1348.6,1332.4 L1349.6,1334.7 L1350.5,1337.0 L1351.4,1339.4 L1352.2,1341.7 L1353.1,1344.1 L1354.1,1346.4 L1355.1,1348.8 L1356.2,1351.1 L1357.2,1353.4 L1358.4,1355.8 L1359.5,1358.1 L1360.8,1360.5 L1362.1,1362.8 L1363.6,1365.1 L1365.2,1367.5 L1367.1,1369.8 L1369.1,1372.2 L1371.2,1374.5 L1373.4,1376.9 L1375.7,1379.2 L1378.2,1381.5 L1381.0,1383.9 L1384.3,1386.2 L1388.3,1388.6 L1392.8,1390.9 L1393.5,1387.9 L1394.2,1384.8 L1395.0,1381.8 L1395.9,1378.8 L1396.8,1375.7 L1397.8,1372.7 L1399.0,1369.6 L1400.1,1366.6 L1401.3,1363.6 L1402.5,1360.5 L1403.6,1357.5 L1404.7,1354.5 L1405.8,1351.4 L1407.0,1348.4 L1408.2,1345.3 L1409.5,1342.3 L1410.8,1339.3 L1412.1,1336.2 L1413.5,1333.2 L1414.6,1335.5 L1415.6,1337.7 L1416.7,1340.0 L1417.6,1342.2 L1418.6,1344.5 L1419.4,1346.7 L1420.3,1349.0 L1421.1,1351.2 L1422.0,1353.5 L1422.9,1355.7 L1423.9,1358.0 L1424.9,1360.2 L1426.0,1362.5 L1427.0,1364.7 L1428.2,1367.0 L1429.4,1369.2 L1430.7,1371.5 L1432.1,1373.7 L1433.7,1376.0 L1435.4,1378.2 L1437.3,1380.5 L1439.4,1382.7 L1441.5,1385.0 L1443.7,1387.2 L1446.1,1389.5 L1448.8,1391.7 L1452.0,1394.0 L1455.8,1396.2 L1460.2,1398.5 L1460.9,1395.4 L1461.7,1392.3 L1462.5,1389.2 L1463.5,1386.1 L1464.4,1383.1 L1465.5,1380.0 L1466.7,1376.9 L1467.9,1373.8 L1469.2,1370.7 L1470.4,1367.6 L1471.6,1364.5 L1472.7,1361.4 L1473.9,1358.3 L1475.1,1355.2 L1476.4,1352.2 L1477.8,1349.1 L1479.1,1346.0 L1480.5,1342.9 L1482.0,1339.8 L1483.1,1342.0 L1484.2,1344.3 L1485.2,1346.5 L1486.2,1348.8 L1487.2,1351.0 L1488.1,1353.3 L1489.0,1355.5 L1489.8,1357.8 L1490.7,1360.0 L1491.7,1362.3 L1492.7,1364.5 L1493.7,1366.8 L1494.7,1369.0 L1495.8,1371.3 L1497.0,1373.5 L1498.2,1375.8 L1499.6,1378.0 L1501.0,1380.3 L1502.6,1382.5 L1504.4,1384.8 L1506.4,1387.0 L1508.5,1389.3 L1510.7,1391.5 L1512.9,1393.8 L1515.4,1396.0 L1518.1,1398.3 L1521.4,1400.5 L1525.3,1402.8 L1529.8,1405.0 L1530.5,1401.9 L1531.4,1398.9 L1532.3,1395.8 L1533.2,1392.8 L1534.2,1389.7 L1535.3,1386.7 L1536.6,1383.6 L1537.9,1380.5 L1539.2,1377.5 L1540.5,1374.4 L1541.7,1371.4 L1542.9,1368.3 L1544.1,1365.2 L1545.4,1362.2 L1546.8,1359.1 L1548.2,1356.1 L1549.6,1353.0 L1551.1,1350.0 L1552.6,1346.9 L1553.7,1349.1 L1554.8,1351.4 L1555.9,1353.6 L1556.9,1355.8 L1557.9,1358.0 L1558.8,1360.3 L1559.7,1362.5 L1560.6,1364.7 L1561.5,1366.9 L1562.5,1369.2 L1563.5,1371.4 L1564.6,1373.6 L1565.6,1375.9 L1566.8,1378.1 L1568.0,1380.3 L1569.2,1382.5 L1570.6,1384.8 L1572.1,1387.0 L1573.7,1389.2 L1575.6,1391.5 L1577.6,1393.7 L1579.7,1395.9 L1581.9,1398.1 L1584.3,1400.4 L1586.8,1402.6 L1589.6,1404.8 L1592.9,1407.0 L1596.9,1409.3 L1601.5,1411.5 L1602.2,1408.5 L1602.9,1405.6 L1603.7,1402.6 L1604.6,1399.6 L1605.5,1396.6 L1606.5,1393.7 L1607.7,1390.7 L1608.8,1387.7 L1610.0,1384.7 L1611.2,1381.8 L1612.3,1378.8 L1613.4,1375.8 L1614.5,1372.8 L1615.7,1369.9 L1616.9,1366.9 L1618.2,1363.9 L1619.5,1360.9 L1620.8,1358.0 L1622.2,1355.0 L1624.1,1358.8 L1626.0,1362.5 L1627.9,1366.1 L1629.9,1369.7 L1631.8,1373.1 L1633.7,1376.4 L1635.6,1379.6 L1637.5,1382.7 L1639.4,1385.7 L1641.3,1388.7 L1643.3,1391.6 L1645.2,1394.4 L1647.1,1397.1 L1649.0,1399.6 L1650.9,1402.0 L1652.8,1404.2 L1654.7,1406.2 L1656.7,1408.1 L1658.6,1409.9 L1660.5,1411.7 L1662.4,1413.3 L1664.3,1414.8 L1666.2,1416.2 L1668.1,1417.6 L1670.1,1418.8 L1672.0,1420.0 L1673.9,1421.2 L1675.8,1422.3 L1677.7,1423.3 L1679.6,1424.3 L1681.5,1425.1 L1683.5,1425.9 L1685.4,1426.7 L1687.3,1427.3 L1689.2,1428.0 L1691.1,1428.6 L1693.0,1429.2 L1694.9,1429.7 L1696.9,1430.2 L1698.8,1430.7 L1700.7,1431.1 L1702.6,1431.5 L1704.5,1431.9 L1706.4,1432.2 L1708.3,1432.5 L1710.3,1432.7 L1712.2,1433.0 L1714.1,1433.1 L1716.0,1433.3" stroke="#00B050" stroke-width="13" stroke-linecap="round"/>
<g stroke="#000" stroke-width="5.9" stroke-linecap="round">
<path d="M363.6,1453.0 L363.8,1423.0 L364.2,1392.9 L364.6,1362.9 L365.2,1332.9 L366.0,1302.8 L366.9,1272.8 L367.9,1242.7 L368.7,1212.7 L369.4,1182.7 L370.0,1152.6 L370.6,1122.6 L371.1,1092.6 L371.6,1062.5 L372.0,1032.5 L372.4,1002.5 L372.8,972.4 L373.1,942.4 L373.4,912.4 L373.7,882.3 L374.0,852.3 L374.3,822.2 L374.6,792.2 L374.9,762.2 L375.2,732.1 L375.5,702.1 L375.8,672.1 L376.2,642.0 L376.5,612.0 L376.9,582.0 L377.2,551.9 L377.6,521.9 L378.0,491.9 L378.5,461.8 L379.0,431.8 L379.5,401.7 L380.1,371.7 L380.7,341.7 L381.3,311.6 L382.0,281.6" stroke-dasharray="0 8.876"/>
<path d="M382.0,281.6 L382.8,301.4 L383.6,321.2 L384.4,341.0 L385.1,360.8 L385.8,380.6 L386.5,400.3 L387.2,420.1 L387.8,439.9 L388.4,459.7 L389.0,479.5 L389.5,499.3 L390.0,519.1 L390.5,538.9 L390.9,558.7 L391.4,578.5 L391.8,598.3 L392.3,618.1 L392.8,637.8 L393.2,657.6 L393.7,677.4 L394.3,697.2 L394.8,717.0 L395.3,736.8 L395.9,756.6 L396.4,776.4 L397.0,796.2 L397.5,816.0 L398.1,835.8 L398.7,855.6 L399.3,875.3 L399.9,895.1 L400.5,914.9 L401.2,934.7 L401.8,954.5 L402.5,974.3 L403.2,994.1 L404.0,1013.9 L404.7,1033.7 L405.6,1053.5 L406.4,1073.3 L407.3,1093.1 L408.2,1112.8 L409.2,1132.6 L410.1,1152.4 L411.1,1172.2 L412.1,1192.0 L413.1,1211.8 L414.1,1231.6 L415.1,1251.4 L416.1,1271.2 L417.2,1291.0 L418.4,1310.8 L419.6,1330.6 L421.0,1350.3 L422.6,1370.1 L424.4,1389.9 L426.3,1409.7 L428.4,1429.5 L430.6,1449.3" stroke-dasharray="0 8.923"/>
<path d="M430.6,1449.3 L430.8,1419.4 L431.2,1389.5 L431.6,1359.6 L432.2,1329.7 L433.0,1299.8 L433.9,1269.9 L434.9,1240.0 L435.7,1210.1 L436.4,1180.2 L437.0,1150.3 L437.5,1120.4 L438.0,1090.5 L438.5,1060.6 L439.0,1030.7 L439.4,1000.8 L439.7,970.9 L440.1,941.0 L440.4,911.1 L440.7,881.2 L441.0,851.4 L441.3,821.5 L441.5,791.6 L441.8,761.7 L442.1,731.8 L442.4,701.9 L442.8,672.0 L443.1,642.1 L443.5,612.2 L443.8,582.3 L444.2,552.4 L444.6,522.5 L445.0,492.6 L445.4,462.7 L445.9,432.8 L446.4,402.9 L447.0,373.0 L447.6,343.1 L448.2,313.2 L448.9,283.3" stroke-dasharray="0 8.902"/>
<path d="M448.9,283.3 L449.7,303.2 L450.5,323.2 L451.3,343.1 L452.1,363.1 L452.8,383.0 L453.5,403.0 L454.2,422.9 L454.8,442.9 L455.4,462.8 L456.0,482.8 L456.5,502.7 L457.0,522.7 L457.5,542.6 L458.0,562.6 L458.4,582.5 L458.9,602.5 L459.4,622.4 L459.8,642.4 L460.3,662.3 L460.8,682.2 L461.4,702.2 L461.9,722.1 L462.5,742.1 L463.0,762.0 L463.6,782.0 L464.1,801.9 L464.7,821.9 L465.3,841.8 L465.9,861.8 L466.5,881.7 L467.1,901.7 L467.7,921.6 L468.4,941.6 L469.0,961.5 L469.7,981.5 L470.5,1001.4 L471.2,1021.4 L472.0,1041.3 L472.8,1061.3 L473.7,1081.2 L474.6,1101.1 L475.6,1121.1 L476.5,1141.0 L477.5,1161.0 L478.5,1180.9 L479.5,1200.9 L480.5,1220.8 L481.5,1240.8 L482.5,1260.7 L483.6,1280.7 L484.7,1300.6 L485.9,1320.6 L487.1,1340.5 L488.6,1360.5 L490.2,1380.4 L492.0,1400.4 L494.0,1420.3 L496.1,1440.3 L498.3,1460.2" stroke-dasharray="0 8.926"/>
<path d="M498.3,1460.2 L498.5,1430.0 L498.9,1399.9 L499.4,1369.7 L499.9,1339.5 L500.8,1309.4 L501.7,1279.2 L502.7,1249.1 L503.6,1218.9 L504.3,1188.7 L504.9,1158.6 L505.4,1128.4 L506.0,1098.2 L506.5,1068.1 L506.9,1037.9 L507.4,1007.7 L507.7,977.6 L508.1,947.4 L508.4,917.2 L508.7,887.1 L509.0,856.9 L509.3,826.8 L509.6,796.6 L509.9,766.4 L510.2,736.3 L510.5,706.1 L510.9,675.9 L511.2,645.8 L511.6,615.6 L511.9,585.4 L512.3,555.3 L512.7,525.1 L513.1,494.9 L513.6,464.8 L514.1,434.6 L514.6,404.5 L515.2,374.3 L515.8,344.1 L516.5,314.0 L517.2,283.8" stroke-dasharray="0 8.913"/>
<path d="M517.2,283.8 L518.0,303.8 L518.8,323.8 L519.6,343.7 L520.4,363.7 L521.2,383.7 L521.9,403.7 L522.6,423.7 L523.2,443.7 L523.8,463.6 L524.4,483.6 L524.9,503.6 L525.5,523.6 L526.0,543.6 L526.4,563.5 L526.9,583.5 L527.4,603.5 L527.9,623.5 L528.3,643.5 L528.8,663.4 L529.3,683.4 L529.9,703.4 L530.4,723.4 L531.0,743.4 L531.6,763.4 L532.1,783.3 L532.7,803.3 L533.3,823.3 L533.9,843.3 L534.5,863.3 L535.1,883.2 L535.7,903.2 L536.4,923.2 L537.0,943.2 L537.7,963.2 L538.4,983.1 L539.2,1003.1 L539.9,1023.1 L540.7,1043.1 L541.6,1063.1 L542.5,1083.1 L543.4,1103.0 L544.3,1123.0 L545.3,1143.0 L546.3,1163.0 L547.3,1183.0 L548.3,1202.9 L549.4,1222.9 L550.4,1242.9 L551.4,1262.9 L552.5,1282.9 L553.6,1302.8 L554.8,1322.8 L556.1,1342.8 L557.6,1362.8 L559.2,1382.8 L561.1,1402.8 L563.1,1422.7 L565.2,1442.7 L567.5,1462.7" stroke-dasharray="0 8.874"/>
<path d="M567.5,1462.7 L567.8,1432.5 L568.2,1402.2 L568.6,1372.0 L569.2,1341.8 L570.1,1311.5 L571.1,1281.3 L572.2,1251.0 L573.1,1220.8 L573.8,1190.6 L574.5,1160.3 L575.1,1130.1 L575.6,1099.9 L576.1,1069.6 L576.6,1039.4 L577.1,1009.2 L577.5,978.9 L577.9,948.7 L578.2,918.5 L578.5,888.2 L578.8,858.0 L579.1,827.7 L579.4,797.5 L579.8,767.3 L580.1,737.0 L580.4,706.8 L580.8,676.6 L581.2,646.3 L581.6,616.1 L581.9,585.9 L582.3,555.6 L582.7,525.4 L583.2,495.2 L583.7,464.9 L584.2,434.7 L584.8,404.4 L585.4,374.2 L586.1,344.0 L586.8,313.7 L587.5,283.5" stroke-dasharray="0 8.868"/>
<path d="M587.5,283.5 L588.3,303.4 L589.2,323.4 L590.0,343.3 L590.7,363.3 L591.5,383.2 L592.2,403.2 L592.9,423.1 L593.6,443.1 L594.2,463.0 L594.8,482.9 L595.3,502.9 L595.8,522.8 L596.3,542.8 L596.8,562.7 L597.3,582.7 L597.8,602.6 L598.2,622.5 L598.7,642.5 L599.2,662.4 L599.7,682.4 L600.3,702.3 L600.9,722.3 L601.4,742.2 L602.0,762.2 L602.5,782.1 L603.1,802.0 L603.7,822.0 L604.3,841.9 L604.9,861.9 L605.5,881.8 L606.2,901.8 L606.8,921.7 L607.5,941.7 L608.2,961.6 L608.9,981.5 L609.6,1001.5 L610.4,1021.4 L611.2,1041.4 L612.1,1061.3 L613.0,1081.3 L613.9,1101.2 L614.9,1121.2 L615.8,1141.1 L616.8,1161.0 L617.9,1181.0 L618.9,1200.9 L619.9,1220.9 L620.9,1240.8 L622.0,1260.8 L623.1,1280.7 L624.2,1300.6 L625.4,1320.6 L626.8,1340.5 L628.2,1360.5 L629.9,1380.4 L631.7,1400.4 L633.7,1420.3 L635.9,1440.3 L638.2,1460.2" stroke-dasharray="0 8.925"/>
<path d="M638.2,1460.2 L638.5,1430.1 L638.8,1400.1 L639.3,1370.0 L639.9,1340.0 L640.7,1309.9 L641.7,1279.9 L642.7,1249.8 L643.5,1219.8 L644.2,1189.7 L644.8,1159.7 L645.4,1129.6 L646.0,1099.6 L646.5,1069.5 L646.9,1039.5 L647.3,1009.4 L647.7,979.4 L648.1,949.3 L648.4,919.3 L648.7,889.2 L649.0,859.2 L649.3,829.1 L649.6,799.1 L649.9,769.0 L650.2,739.0 L650.6,708.9 L650.9,678.9 L651.3,648.8 L651.6,618.8 L652.0,588.7 L652.4,558.7 L652.8,528.6 L653.2,498.6 L653.6,468.5 L654.1,438.5 L654.7,408.4 L655.3,378.4 L655.9,348.3 L656.6,318.3 L657.3,288.2" stroke-dasharray="0 8.880"/>
<path d="M657.3,288.2 L658.1,308.0 L658.9,327.8 L659.7,347.6 L660.4,367.3 L661.1,387.1 L661.8,406.9 L662.5,426.7 L663.1,446.5 L663.7,466.3 L664.3,486.0 L664.8,505.8 L665.3,525.6 L665.8,545.4 L666.2,565.2 L666.7,585.0 L667.2,604.8 L667.6,624.5 L668.1,644.3 L668.6,664.1 L669.1,683.9 L669.6,703.7 L670.1,723.5 L670.7,743.2 L671.2,763.0 L671.8,782.8 L672.3,802.6 L672.9,822.4 L673.4,842.2 L674.0,862.0 L674.6,881.7 L675.2,901.5 L675.8,921.3 L676.5,941.1 L677.2,960.9 L677.8,980.7 L678.6,1000.5 L679.3,1020.2 L680.1,1040.0 L680.9,1059.8 L681.8,1079.6 L682.7,1099.4 L683.6,1119.2 L684.5,1138.9 L685.5,1158.7 L686.5,1178.5 L687.4,1198.3 L688.4,1218.1 L689.4,1237.9 L690.4,1257.7 L691.5,1277.4 L692.6,1297.2 L693.7,1317.0 L695.0,1336.8 L696.4,1356.6 L698.0,1376.4 L699.8,1396.1 L701.7,1415.9 L703.8,1435.7 L706.0,1455.5" stroke-dasharray="0 8.920"/>
<path d="M706.0,1455.5 L706.2,1425.5 L706.6,1395.5 L707.0,1365.5 L707.5,1335.5 L708.3,1305.5 L709.2,1275.5 L710.2,1245.5 L711.0,1215.5 L711.6,1185.5 L712.2,1155.5 L712.7,1125.5 L713.2,1095.5 L713.7,1065.5 L714.1,1035.5 L714.5,1005.5 L714.9,975.5 L715.2,945.5 L715.5,915.5 L715.8,885.5 L716.1,855.5 L716.4,825.5 L716.6,795.5 L716.9,765.5 L717.2,735.5 L717.5,705.5 L717.8,675.5 L718.2,645.5 L718.5,615.5 L718.8,585.5 L719.2,555.5 L719.6,525.5 L720.0,495.5 L720.4,465.5 L720.8,435.5 L721.4,405.5 L721.9,375.5 L722.5,345.5 L723.1,315.5 L723.8,285.5" stroke-dasharray="0 8.932"/>
<path d="M723.8,285.5 L724.6,305.3 L725.4,325.1 L726.2,344.9 L726.9,364.7 L727.7,384.5 L728.4,404.3 L729.0,424.1 L729.7,443.9 L730.3,463.7 L730.8,483.5 L731.4,503.3 L731.9,523.1 L732.4,542.9 L732.8,562.7 L733.3,582.5 L733.8,602.3 L734.2,622.1 L734.7,641.9 L735.2,661.7 L735.7,681.5 L736.2,701.3 L736.8,721.1 L737.3,740.9 L737.9,760.7 L738.4,780.5 L739.0,800.3 L739.5,820.1 L740.1,839.9 L740.7,859.7 L741.3,879.5 L741.9,899.3 L742.5,919.1 L743.2,938.9 L743.9,958.7 L744.6,978.5 L745.3,998.3 L746.0,1018.1 L746.8,1037.9 L747.6,1057.7 L748.5,1077.5 L749.4,1097.3 L750.3,1117.1 L751.3,1136.9 L752.3,1156.7 L753.3,1176.5 L754.3,1196.3 L755.3,1216.1 L756.3,1235.9 L757.3,1255.7 L758.3,1275.5 L759.4,1295.3 L760.6,1315.1 L761.9,1334.9 L763.3,1354.7 L764.9,1374.5 L766.7,1394.3 L768.7,1414.1 L770.8,1433.9 L773.0,1453.7" stroke-dasharray="0 8.927"/>
<path d="M773.0,1453.7 L773.2,1423.7 L773.6,1393.7 L774.1,1363.7 L774.6,1333.6 L775.5,1303.6 L776.4,1273.6 L777.4,1243.6 L778.3,1213.6 L779.0,1183.6 L779.6,1153.5 L780.1,1123.5 L780.7,1093.5 L781.2,1063.5 L781.6,1033.5 L782.1,1003.5 L782.4,973.5 L782.8,943.4 L783.1,913.4 L783.4,883.4 L783.7,853.4 L784.0,823.4 L784.3,793.4 L784.6,763.3 L784.9,733.3 L785.2,703.3 L785.6,673.3 L785.9,643.3 L786.3,613.3 L786.6,583.3 L787.0,553.2 L787.4,523.2 L787.8,493.2 L788.3,463.2 L788.8,433.2 L789.3,403.2 L789.9,373.1 L790.5,343.1 L791.2,313.1 L791.9,283.1" stroke-dasharray="0 8.870"/>
<path d="M791.9,283.1 L792.7,303.0 L793.5,322.9 L794.3,342.8 L795.0,362.7 L795.8,382.6 L796.5,402.5 L797.1,422.4 L797.8,442.3 L798.4,462.2 L798.9,482.1 L799.5,502.0 L800.0,521.9 L800.5,541.8 L800.9,561.7 L801.4,581.6 L801.9,601.5 L802.3,621.4 L802.8,641.3 L803.3,661.2 L803.8,681.1 L804.3,701.0 L804.9,720.9 L805.4,740.8 L806.0,760.7 L806.5,780.6 L807.1,800.5 L807.6,820.4 L808.2,840.3 L808.8,860.2 L809.4,880.2 L810.0,900.1 L810.6,920.0 L811.3,939.9 L812.0,959.8 L812.7,979.7 L813.4,999.6 L814.1,1019.5 L814.9,1039.4 L815.7,1059.3 L816.6,1079.2 L817.5,1099.1 L818.4,1119.0 L819.4,1138.9 L820.4,1158.8 L821.4,1178.7 L822.4,1198.6 L823.4,1218.5 L824.4,1238.4 L825.4,1258.3 L826.4,1278.2 L827.5,1298.1 L828.7,1318.0 L830.0,1337.9 L831.4,1357.8 L833.0,1377.7 L834.8,1397.6 L836.8,1417.5 L838.9,1437.4 L841.1,1457.3" stroke-dasharray="0 8.905"/>
<path d="M841.1,1457.3 L841.4,1427.5 L841.7,1397.6 L842.2,1367.8 L842.8,1337.9 L843.6,1308.1 L844.6,1278.2 L845.6,1248.4 L846.4,1218.6 L847.1,1188.7 L847.7,1158.9 L848.3,1129.0 L848.9,1099.2 L849.4,1069.3 L849.8,1039.5 L850.2,1009.6 L850.6,979.8 L851.0,950.0 L851.3,920.1 L851.6,890.3 L851.9,860.4 L852.2,830.6 L852.5,800.7 L852.8,770.9 L853.1,741.1 L853.5,711.2 L853.8,681.4 L854.2,651.5 L854.5,621.7 L854.9,591.8 L855.3,562.0 L855.7,532.1 L856.1,502.3 L856.5,472.5 L857.0,442.6 L857.6,412.8 L858.2,382.9 L858.8,353.1 L859.5,323.2 L860.2,293.4" stroke-dasharray="0 8.886"/>
<path d="M860.2,293.4 L861.0,313.0 L861.8,332.7 L862.6,352.3 L863.3,371.9 L864.0,391.6 L864.7,411.2 L865.4,430.8 L866.0,450.5 L866.6,470.1 L867.2,489.8 L867.7,509.4 L868.2,529.0 L868.7,548.7 L869.1,568.3 L869.6,587.9 L870.0,607.6 L870.5,627.2 L871.0,646.8 L871.4,666.5 L871.9,686.1 L872.5,705.7 L873.0,725.4 L873.5,745.0 L874.1,764.7 L874.6,784.3 L875.2,803.9 L875.7,823.6 L876.3,843.2 L876.9,862.8 L877.5,882.5 L878.1,902.1 L878.7,921.7 L879.4,941.4 L880.0,961.0 L880.7,980.6 L881.4,1000.3 L882.2,1019.9 L882.9,1039.6 L883.8,1059.2 L884.6,1078.8 L885.5,1098.5 L886.4,1118.1 L887.4,1137.7 L888.3,1157.4 L889.3,1177.0 L890.3,1196.6 L891.3,1216.3 L892.3,1235.9 L893.3,1255.5 L894.3,1275.2 L895.4,1294.8 L896.6,1314.5 L897.8,1334.1 L899.2,1353.7 L900.8,1373.4 L902.6,1393.0 L904.5,1412.6 L906.6,1432.3 L908.8,1451.9" stroke-dasharray="0 8.921"/>
<path d="M908.8,1451.9 L909.0,1422.2 L909.4,1392.4 L909.8,1362.7 L910.4,1333.0 L911.2,1303.3 L912.1,1273.5 L913.0,1243.8 L913.9,1214.1 L914.5,1184.4 L915.1,1154.6 L915.6,1124.9 L916.1,1095.2 L916.6,1065.5 L917.1,1035.7 L917.5,1006.0 L917.8,976.3 L918.2,946.6 L918.5,916.8 L918.8,887.1 L919.1,857.4 L919.3,827.7 L919.6,797.9 L919.9,768.2 L920.2,738.5 L920.5,708.8 L920.8,679.0 L921.2,649.3 L921.5,619.6 L921.9,589.9 L922.2,560.1 L922.6,530.4 L923.0,500.7 L923.4,471.0 L923.9,441.2 L924.4,411.5 L925.0,381.8 L925.6,352.1 L926.2,322.3 L926.9,292.6" stroke-dasharray="0 8.919"/>
<path d="M926.9,292.6 L927.7,312.2 L928.5,331.9 L929.3,351.5 L930.0,371.2 L930.8,390.8 L931.5,410.5 L932.1,430.1 L932.8,449.8 L933.4,469.4 L933.9,489.1 L934.4,508.7 L934.9,528.4 L935.4,548.0 L935.9,567.7 L936.4,587.3 L936.8,607.0 L937.3,626.6 L937.8,646.3 L938.2,665.9 L938.7,685.6 L939.3,705.2 L939.8,724.9 L940.3,744.5 L940.9,764.2 L941.4,783.8 L942.0,803.5 L942.6,823.1 L943.1,842.8 L943.7,862.4 L944.3,882.1 L944.9,901.7 L945.6,921.4 L946.2,941.0 L946.9,960.7 L947.6,980.3 L948.3,1000.0 L949.0,1019.6 L949.8,1039.3 L950.7,1058.9 L951.5,1078.6 L952.4,1098.2 L953.3,1117.9 L954.3,1137.5 L955.3,1157.2 L956.2,1176.8 L957.2,1196.5 L958.2,1216.1 L959.2,1235.8 L960.2,1255.4 L961.3,1275.1 L962.4,1294.7 L963.6,1314.4 L964.8,1334.0 L966.2,1353.7 L967.8,1373.3 L969.6,1393.0 L971.6,1412.6 L973.7,1432.3 L975.9,1451.9" stroke-dasharray="0 8.928"/>
<path d="M975.9,1451.9 L976.1,1421.9 L976.5,1391.9 L976.9,1361.9 L977.5,1332.0 L978.3,1302.0 L979.2,1272.0 L980.2,1242.0 L981.0,1212.0 L981.7,1182.0 L982.3,1152.0 L982.9,1122.0 L983.4,1092.1 L983.9,1062.1 L984.3,1032.1 L984.7,1002.1 L985.1,972.1 L985.4,942.1 L985.7,912.1 L986.0,882.1 L986.3,852.2 L986.6,822.2 L986.9,792.2 L987.2,762.2 L987.5,732.2 L987.8,702.2 L988.1,672.2 L988.5,642.2 L988.8,612.3 L989.2,582.3 L989.5,552.3 L989.9,522.3 L990.3,492.3 L990.8,462.3 L991.3,432.3 L991.8,402.3 L992.4,372.4 L993.0,342.4 L993.6,312.4 L994.3,282.4" stroke-dasharray="0 8.929"/>
<path d="M994.3,282.4 L995.1,302.2 L995.9,321.9 L996.7,341.7 L997.4,361.4 L998.1,381.2 L998.8,401.0 L999.5,420.7 L1000.1,440.5 L1000.7,460.2 L1001.2,480.0 L1001.8,499.8 L1002.3,519.5 L1002.7,539.3 L1003.2,559.1 L1003.7,578.8 L1004.1,598.6 L1004.6,618.3 L1005.0,638.1 L1005.5,657.9 L1006.0,677.6 L1006.5,697.4 L1007.1,717.1 L1007.6,736.9 L1008.2,756.7 L1008.7,776.4 L1009.2,796.2 L1009.8,815.9 L1010.4,835.7 L1010.9,855.5 L1011.5,875.2 L1012.1,895.0 L1012.8,914.8 L1013.4,934.5 L1014.1,954.3 L1014.8,974.0 L1015.5,993.8 L1016.2,1013.6 L1017.0,1033.3 L1017.8,1053.1 L1018.7,1072.8 L1019.6,1092.6 L1020.5,1112.4 L1021.4,1132.1 L1022.4,1151.9 L1023.3,1171.6 L1024.3,1191.4 L1025.3,1211.2 L1026.3,1230.9 L1027.3,1250.7 L1028.3,1270.5 L1029.4,1290.2 L1030.6,1310.0 L1031.8,1329.7 L1033.2,1349.5 L1034.8,1369.3 L1036.6,1389.0 L1038.5,1408.8 L1040.6,1428.5 L1042.8,1448.3" stroke-dasharray="0 8.910"/>
<path d="M1042.8,1448.3 L1043.1,1418.3 L1043.4,1388.3 L1043.9,1358.4 L1044.5,1328.4 L1045.3,1298.4 L1046.3,1268.4 L1047.3,1238.4 L1048.2,1208.4 L1048.9,1178.5 L1049.5,1148.5 L1050.1,1118.5 L1050.6,1088.5 L1051.1,1058.5 L1051.6,1028.6 L1052.0,998.6 L1052.4,968.6 L1052.8,938.6 L1053.1,908.6 L1053.4,878.6 L1053.7,848.7 L1054.0,818.7 L1054.3,788.7 L1054.6,758.7 L1055.0,728.7 L1055.3,698.7 L1055.6,668.8 L1056.0,638.8 L1056.4,608.8 L1056.7,578.8 L1057.1,548.8 L1057.5,518.9 L1057.9,488.9 L1058.4,458.9 L1058.9,428.9 L1059.5,398.9 L1060.1,368.9 L1060.7,339.0 L1061.4,309.0 L1062.1,279.0" stroke-dasharray="0 8.927"/>
<path d="M1062.1,279.0 L1062.9,298.9 L1063.7,318.7 L1064.5,338.6 L1065.2,358.5 L1066.0,378.3 L1066.7,398.2 L1067.3,418.1 L1068.0,437.9 L1068.6,457.8 L1069.1,477.7 L1069.7,497.5 L1070.2,517.4 L1070.6,537.3 L1071.1,557.1 L1071.6,577.0 L1072.0,596.9 L1072.5,616.8 L1073.0,636.6 L1073.5,656.5 L1074.0,676.4 L1074.5,696.2 L1075.0,716.1 L1075.6,736.0 L1076.1,755.8 L1076.7,775.7 L1077.2,795.6 L1077.8,815.4 L1078.4,835.3 L1079.0,855.2 L1079.6,875.0 L1080.2,894.9 L1080.8,914.8 L1081.4,934.6 L1082.1,954.5 L1082.8,974.4 L1083.5,994.2 L1084.3,1014.1 L1085.1,1034.0 L1085.9,1053.8 L1086.8,1073.7 L1087.7,1093.6 L1088.6,1113.4 L1089.5,1133.3 L1090.5,1153.2 L1091.5,1173.1 L1092.5,1192.9 L1093.5,1212.8 L1094.5,1232.7 L1095.5,1252.5 L1096.5,1272.4 L1097.6,1292.3 L1098.8,1312.1 L1100.1,1332.0 L1101.5,1351.9 L1103.1,1371.7 L1104.9,1391.6 L1106.9,1411.5 L1109.0,1431.3 L1111.2,1451.2" stroke-dasharray="0 8.890"/>
<path d="M1111.2,1451.2 L1111.4,1421.4 L1111.8,1391.6 L1112.2,1361.9 L1112.8,1332.1 L1113.6,1302.3 L1114.5,1272.5 L1115.4,1242.7 L1116.3,1213.0 L1116.9,1183.2 L1117.5,1153.4 L1118.0,1123.6 L1118.5,1093.8 L1119.0,1064.1 L1119.5,1034.3 L1119.9,1004.5 L1120.2,974.7 L1120.6,944.9 L1120.9,915.2 L1121.2,885.4 L1121.5,855.6 L1121.7,825.8 L1122.0,796.1 L1122.3,766.3 L1122.6,736.5 L1122.9,706.7 L1123.2,676.9 L1123.6,647.2 L1123.9,617.4 L1124.3,587.6 L1124.6,557.8 L1125.0,528.0 L1125.4,498.3 L1125.8,468.5 L1126.3,438.7 L1126.8,408.9 L1127.4,379.1 L1128.0,349.4 L1128.6,319.6 L1129.3,289.8" stroke-dasharray="0 8.867"/>
<path d="M1129.3,289.8 L1130.1,309.6 L1130.9,329.3 L1131.7,349.1 L1132.5,368.8 L1133.2,388.6 L1134.0,408.3 L1134.6,428.1 L1135.3,447.9 L1135.9,467.6 L1136.5,487.4 L1137.0,507.1 L1137.5,526.9 L1138.0,546.6 L1138.5,566.4 L1139.0,586.2 L1139.4,605.9 L1139.9,625.7 L1140.4,645.4 L1140.9,665.2 L1141.4,685.0 L1141.9,704.7 L1142.5,724.5 L1143.0,744.2 L1143.6,764.0 L1144.1,783.7 L1144.7,803.5 L1145.3,823.3 L1145.9,843.0 L1146.5,862.8 L1147.1,882.5 L1147.7,902.3 L1148.3,922.0 L1149.0,941.8 L1149.7,961.6 L1150.4,981.3 L1151.1,1001.1 L1151.9,1020.8 L1152.7,1040.6 L1153.5,1060.3 L1154.4,1080.1 L1155.3,1099.9 L1156.3,1119.6 L1157.2,1139.4 L1158.2,1159.1 L1159.2,1178.9 L1160.2,1198.7 L1161.3,1218.4 L1162.3,1238.2 L1163.3,1257.9 L1164.4,1277.7 L1165.5,1297.4 L1166.7,1317.2 L1168.0,1337.0 L1169.4,1356.7 L1171.1,1376.5 L1172.9,1396.2 L1174.9,1416.0 L1177.1,1435.7 L1179.3,1455.5" stroke-dasharray="0 8.909"/>
<path d="M1179.3,1455.5 L1179.5,1425.3 L1179.9,1395.2 L1180.4,1365.0 L1180.9,1334.9 L1181.7,1304.7 L1182.7,1274.6 L1183.6,1244.4 L1184.5,1214.3 L1185.2,1184.1 L1185.8,1154.0 L1186.3,1123.8 L1186.9,1093.7 L1187.3,1063.5 L1187.8,1033.3 L1188.2,1003.2 L1188.6,973.0 L1188.9,942.9 L1189.3,912.7 L1189.6,882.6 L1189.8,852.4 L1190.1,822.3 L1190.4,792.1 L1190.7,762.0 L1191.0,731.8 L1191.3,701.7 L1191.7,671.5 L1192.0,641.3 L1192.4,611.2 L1192.7,581.0 L1193.1,550.9 L1193.5,520.7 L1193.9,490.6 L1194.3,460.4 L1194.8,430.3 L1195.4,400.1 L1195.9,370.0 L1196.6,339.8 L1197.2,309.7 L1197.9,279.5" stroke-dasharray="0 8.910"/>
<path d="M1197.9,279.5 L1198.8,299.6 L1199.6,319.7 L1200.5,339.8 L1201.3,359.9 L1202.1,380.0 L1202.8,400.1 L1203.5,420.2 L1204.2,440.3 L1204.9,460.4 L1205.5,480.5 L1206.0,500.6 L1206.6,520.7 L1207.1,540.8 L1207.6,560.9 L1208.1,581.0 L1208.6,601.1 L1209.1,621.2 L1209.6,641.3 L1210.1,661.4 L1210.7,681.5 L1211.2,701.6 L1211.8,721.7 L1212.4,741.8 L1213.0,761.9 L1213.6,782.0 L1214.2,802.1 L1214.8,822.2 L1215.4,842.3 L1216.0,862.4 L1216.7,882.4 L1217.3,902.5 L1218.0,922.6 L1218.7,942.7 L1219.4,962.8 L1220.2,982.9 L1220.9,1003.0 L1221.7,1023.1 L1222.6,1043.2 L1223.5,1063.3 L1224.4,1083.4 L1225.4,1103.5 L1226.4,1123.6 L1227.4,1143.7 L1228.4,1163.8 L1229.5,1183.9 L1230.6,1204.0 L1231.7,1224.1 L1232.7,1244.2 L1233.8,1264.3 L1234.9,1284.4 L1236.1,1304.5 L1237.4,1324.6 L1238.8,1344.7 L1240.3,1364.8 L1242.0,1384.9 L1243.9,1405.0 L1246.1,1425.1 L1248.3,1445.2 L1250.7,1465.3" stroke-dasharray="0 8.927"/>
<path d="M1250.7,1465.3 L1251.0,1435.1 L1251.3,1404.9 L1251.8,1374.7 L1252.4,1344.5 L1253.2,1314.3 L1254.2,1284.1 L1255.2,1253.9 L1256.0,1223.7 L1256.7,1193.5 L1257.3,1163.3 L1257.9,1133.1 L1258.5,1102.9 L1259.0,1072.7 L1259.4,1042.5 L1259.8,1012.3 L1260.2,982.1 L1260.6,951.9 L1260.9,921.7 L1261.2,891.5 L1261.5,861.2 L1261.8,831.0 L1262.1,800.8 L1262.4,770.6 L1262.7,740.4 L1263.1,710.2 L1263.4,680.0 L1263.8,649.8 L1264.1,619.6 L1264.5,589.4 L1264.9,559.2 L1265.3,529.0 L1265.7,498.8 L1266.1,468.6 L1266.6,438.4 L1267.2,408.2 L1267.8,378.0 L1268.4,347.8 L1269.1,317.6 L1269.8,287.4" stroke-dasharray="0 8.925"/>
<path d="M1269.8,287.4 L1270.7,307.3 L1271.6,327.3 L1272.4,347.2 L1273.2,367.2 L1274.0,387.1 L1274.8,407.0 L1275.5,427.0 L1276.2,446.9 L1276.9,466.9 L1277.5,486.8 L1278.1,506.7 L1278.6,526.7 L1279.2,546.6 L1279.7,566.5 L1280.2,586.5 L1280.7,606.4 L1281.2,626.4 L1281.7,646.3 L1282.2,666.2 L1282.8,686.2 L1283.4,706.1 L1284.0,726.1 L1284.6,746.0 L1285.2,765.9 L1285.8,785.9 L1286.4,805.8 L1287.0,825.8 L1287.6,845.7 L1288.3,865.6 L1288.9,885.6 L1289.6,905.5 L1290.3,925.4 L1291.0,945.4 L1291.7,965.3 L1292.5,985.3 L1293.3,1005.2 L1294.1,1025.1 L1295.0,1045.1 L1295.9,1065.0 L1296.8,1085.0 L1297.8,1104.9 L1298.8,1124.8 L1299.9,1144.8 L1300.9,1164.7 L1302.0,1184.7 L1303.1,1204.6 L1304.2,1224.5 L1305.3,1244.5 L1306.4,1264.4 L1307.5,1284.3 L1308.8,1304.3 L1310.0,1324.2 L1311.4,1344.2 L1313.0,1364.1 L1314.7,1384.0 L1316.7,1404.0 L1318.9,1423.9 L1321.2,1443.9 L1323.6,1463.8" stroke-dasharray="0 8.924"/>
<path d="M1323.6,1463.8 L1323.8,1433.4 L1324.2,1403.1 L1324.7,1372.7 L1325.2,1342.3 L1326.0,1312.0 L1327.0,1281.6 L1328.0,1251.2 L1328.9,1220.9 L1329.5,1190.5 L1330.1,1160.1 L1330.7,1129.8 L1331.2,1099.4 L1331.7,1069.0 L1332.2,1038.7 L1332.6,1008.3 L1333.0,977.9 L1333.3,947.6 L1333.7,917.2 L1334.0,886.8 L1334.3,856.5 L1334.5,826.1 L1334.8,795.7 L1335.1,765.4 L1335.4,735.0 L1335.8,704.6 L1336.1,674.3 L1336.5,643.9 L1336.8,613.5 L1337.2,583.2 L1337.5,552.8 L1337.9,522.4 L1338.4,492.1 L1338.8,461.7 L1339.3,431.3 L1339.8,401.0 L1340.4,370.6 L1341.0,340.2 L1341.7,309.9 L1342.4,279.5" stroke-dasharray="0 8.906"/>
<path d="M1342.4,279.5 L1343.2,299.5 L1344.0,319.5 L1344.8,339.5 L1345.6,359.5 L1346.3,379.5 L1347.1,399.5 L1347.7,419.5 L1348.4,439.4 L1349.0,459.4 L1349.6,479.4 L1350.1,499.4 L1350.6,519.4 L1351.1,539.4 L1351.6,559.4 L1352.1,579.4 L1352.5,599.4 L1353.0,619.4 L1353.5,639.4 L1354.0,659.4 L1354.5,679.4 L1355.0,699.4 L1355.6,719.4 L1356.1,739.3 L1356.7,759.3 L1357.2,779.3 L1357.8,799.3 L1358.4,819.3 L1359.0,839.3 L1359.6,859.3 L1360.2,879.3 L1360.8,899.3 L1361.4,919.3 L1362.1,939.3 L1362.8,959.3 L1363.5,979.3 L1364.2,999.3 L1365.0,1019.2 L1365.8,1039.2 L1366.6,1059.2 L1367.5,1079.2 L1368.4,1099.2 L1369.4,1119.2 L1370.3,1139.2 L1371.3,1159.2 L1372.3,1179.2 L1373.3,1199.2 L1374.4,1219.2 L1375.4,1239.2 L1376.4,1259.2 L1377.5,1279.2 L1378.6,1299.2 L1379.8,1319.1 L1381.1,1339.1 L1382.5,1359.1 L1384.2,1379.1 L1386.0,1399.1 L1388.0,1419.1 L1390.2,1439.1 L1392.4,1459.1" stroke-dasharray="0 8.879"/>
<path d="M1392.4,1459.1 L1392.6,1428.9 L1393.0,1398.8 L1393.5,1368.6 L1394.0,1338.5 L1394.9,1308.3 L1395.8,1278.2 L1396.8,1248.0 L1397.7,1217.9 L1398.4,1187.7 L1399.0,1157.6 L1399.6,1127.4 L1400.1,1097.3 L1400.6,1067.1 L1401.1,1036.9 L1401.5,1006.8 L1401.9,976.6 L1402.2,946.5 L1402.6,916.3 L1402.9,886.2 L1403.2,856.0 L1403.5,825.9 L1403.7,795.7 L1404.0,765.6 L1404.4,735.4 L1404.7,705.3 L1405.0,675.1 L1405.4,644.9 L1405.7,614.8 L1406.1,584.6 L1406.5,554.5 L1406.9,524.3 L1407.3,494.2 L1407.8,464.0 L1408.3,433.9 L1408.8,403.7 L1409.4,373.6 L1410.0,343.4 L1410.7,313.3 L1411.4,283.1" stroke-dasharray="0 8.910"/>
<path d="M1411.4,283.1 L1412.2,303.0 L1413.0,322.9 L1413.8,342.8 L1414.6,362.8 L1415.3,382.7 L1416.0,402.6 L1416.7,422.5 L1417.3,442.4 L1417.9,462.3 L1418.5,482.2 L1419.0,502.1 L1419.5,522.1 L1420.0,542.0 L1420.5,561.9 L1421.0,581.8 L1421.4,601.7 L1421.9,621.6 L1422.4,641.5 L1422.8,661.5 L1423.4,681.4 L1423.9,701.3 L1424.4,721.2 L1425.0,741.1 L1425.5,761.0 L1426.1,780.9 L1426.7,800.9 L1427.2,820.8 L1427.8,840.7 L1428.4,860.6 L1429.0,880.5 L1429.6,900.4 L1430.3,920.3 L1430.9,940.2 L1431.6,960.2 L1432.3,980.1 L1433.0,1000.0 L1433.8,1019.9 L1434.6,1039.8 L1435.4,1059.7 L1436.3,1079.6 L1437.2,1099.6 L1438.1,1119.5 L1439.1,1139.4 L1440.0,1159.3 L1441.0,1179.2 L1442.0,1199.1 L1443.0,1219.0 L1444.0,1239.0 L1445.1,1258.9 L1446.1,1278.8 L1447.2,1298.7 L1448.4,1318.6 L1449.7,1338.5 L1451.1,1358.4 L1452.7,1378.3 L1454.6,1398.3 L1456.6,1418.2 L1458.7,1438.1 L1460.9,1458.0" stroke-dasharray="0 8.911"/>
<path d="M1460.9,1458.0 L1461.1,1428.0 L1461.5,1398.0 L1462.0,1368.0 L1462.5,1338.1 L1463.3,1308.1 L1464.3,1278.1 L1465.3,1248.1 L1466.1,1218.1 L1466.8,1188.1 L1467.4,1158.1 L1468.0,1128.1 L1468.5,1098.2 L1469.0,1068.2 L1469.4,1038.2 L1469.9,1008.2 L1470.2,978.2 L1470.6,948.2 L1470.9,918.2 L1471.2,888.2 L1471.5,858.3 L1471.8,828.3 L1472.1,798.3 L1472.4,768.3 L1472.7,738.3 L1473.0,708.3 L1473.3,678.3 L1473.7,648.3 L1474.0,618.4 L1474.4,588.4 L1474.8,558.4 L1475.2,528.4 L1475.6,498.4 L1476.0,468.4 L1476.5,438.4 L1477.0,408.4 L1477.6,378.5 L1478.3,348.5 L1478.9,318.5 L1479.6,288.5" stroke-dasharray="0 8.929"/>
<path d="M1479.6,288.5 L1480.5,308.4 L1481.3,328.2 L1482.1,348.1 L1482.9,368.0 L1483.7,387.9 L1484.4,407.7 L1485.1,427.6 L1485.8,447.5 L1486.4,467.3 L1487.0,487.2 L1487.6,507.1 L1488.1,527.0 L1488.6,546.8 L1489.1,566.7 L1489.6,586.6 L1490.1,606.4 L1490.6,626.3 L1491.1,646.2 L1491.6,666.1 L1492.1,685.9 L1492.7,705.8 L1493.3,725.7 L1493.8,745.5 L1494.4,765.4 L1495.0,785.3 L1495.6,805.2 L1496.2,825.0 L1496.8,844.9 L1497.4,864.8 L1498.0,884.6 L1498.7,904.5 L1499.4,924.4 L1500.1,944.2 L1500.8,964.1 L1501.5,984.0 L1502.2,1003.9 L1503.0,1023.7 L1503.9,1043.6 L1504.8,1063.5 L1505.7,1083.3 L1506.6,1103.2 L1507.6,1123.1 L1508.6,1143.0 L1509.6,1162.8 L1510.7,1182.7 L1511.7,1202.6 L1512.8,1222.4 L1513.8,1242.3 L1514.9,1262.2 L1516.0,1282.1 L1517.2,1301.9 L1518.4,1321.8 L1519.8,1341.7 L1521.3,1361.5 L1523.0,1381.4 L1524.9,1401.3 L1526.9,1421.2 L1529.2,1441.0 L1531.5,1460.9" stroke-dasharray="0 8.893"/>
<path d="M1531.5,1460.9 L1531.7,1430.7 L1532.1,1400.6 L1532.5,1370.4 L1533.1,1340.2 L1533.9,1310.1 L1534.8,1279.9 L1535.7,1249.8 L1536.6,1219.6 L1537.2,1189.4 L1537.8,1159.3 L1538.4,1129.1 L1538.9,1098.9 L1539.4,1068.8 L1539.8,1038.6 L1540.2,1008.4 L1540.6,978.3 L1540.9,948.1 L1541.2,917.9 L1541.5,887.8 L1541.8,857.6 L1542.1,827.5 L1542.4,797.3 L1542.7,767.1 L1543.0,737.0 L1543.3,706.8 L1543.6,676.6 L1543.9,646.5 L1544.3,616.3 L1544.6,586.1 L1545.0,556.0 L1545.4,525.8 L1545.8,495.6 L1546.2,465.5 L1546.7,435.3 L1547.2,405.2 L1547.8,375.0 L1548.4,344.8 L1549.0,314.7 L1549.7,284.5" stroke-dasharray="0 8.913"/>
<path d="M1549.7,284.5 L1550.6,304.5 L1551.4,324.5 L1552.2,344.5 L1553.0,364.5 L1553.8,384.5 L1554.5,404.5 L1555.2,424.5 L1555.9,444.5 L1556.5,464.5 L1557.1,484.5 L1557.7,504.5 L1558.2,524.5 L1558.7,544.5 L1559.2,564.5 L1559.7,584.5 L1560.2,604.5 L1560.7,624.5 L1561.1,644.5 L1561.7,664.5 L1562.2,684.5 L1562.7,704.5 L1563.3,724.5 L1563.9,744.5 L1564.5,764.5 L1565.0,784.5 L1565.6,804.5 L1566.2,824.5 L1566.8,844.5 L1567.4,864.5 L1568.1,884.6 L1568.7,904.6 L1569.4,924.6 L1570.1,944.6 L1570.8,964.6 L1571.5,984.6 L1572.3,1004.6 L1573.1,1024.6 L1573.9,1044.6 L1574.8,1064.6 L1575.7,1084.6 L1576.6,1104.6 L1577.6,1124.6 L1578.6,1144.6 L1579.6,1164.6 L1580.7,1184.6 L1581.7,1204.6 L1582.8,1224.6 L1583.8,1244.6 L1584.9,1264.6 L1586.0,1284.6 L1587.1,1304.6 L1588.4,1324.6 L1589.7,1344.6 L1591.2,1364.6 L1592.9,1384.6 L1594.8,1404.6 L1596.9,1424.6 L1599.1,1444.6 L1601.4,1464.6" stroke-dasharray="0 8.883"/>
<path d="M1601.4,1464.6 L1601.6,1434.6 L1602.0,1404.6 L1602.5,1374.6 L1603.0,1344.6 L1603.8,1314.6 L1604.8,1284.6 L1605.8,1254.6 L1606.7,1224.6 L1607.3,1194.6 L1607.9,1164.5 L1608.5,1134.5 L1609.0,1104.5 L1609.5,1074.5 L1610.0,1044.5 L1610.4,1014.5 L1610.8,984.5 L1611.1,954.5 L1611.5,924.5 L1611.8,894.5 L1612.1,864.5 L1612.3,834.5 L1612.6,804.5 L1612.9,774.5 L1613.2,744.5 L1613.6,714.5 L1613.9,684.5 L1614.3,654.5 L1614.6,624.5 L1615.0,594.5 L1615.3,564.4 L1615.7,534.4 L1616.2,504.4 L1616.6,474.4 L1617.1,444.4 L1617.6,414.4 L1618.2,384.4 L1618.8,354.4 L1619.5,324.4 L1620.2,294.4" stroke-dasharray="0 8.866"/>
<path d="M1620.2,294.4 L1621.1,314.2 L1621.9,334.1 L1622.7,353.9 L1623.5,373.8 L1624.3,393.6 L1625.0,413.4 L1625.7,433.3 L1626.4,453.1 L1627.0,473.0 L1627.6,492.8 L1628.2,512.6 L1628.7,532.5 L1629.2,552.3 L1629.7,572.2 L1630.2,592.0 L1630.7,611.9 L1631.2,631.7 L1631.7,651.5 L1632.2,671.4 L1632.7,691.2 L1633.3,711.1 L1633.8,730.9 L1634.4,750.7 L1635.0,770.6 L1635.6,790.4 L1636.2,810.3 L1636.8,830.1 L1637.4,849.9 L1638.0,869.8 L1638.6,889.6 L1639.3,909.5 L1639.9,929.3 L1640.6,949.1 L1641.3,969.0 L1642.0,988.8 L1642.8,1008.7 L1643.6,1028.5 L1644.4,1048.3 L1645.3,1068.2 L1646.2,1088.0 L1647.2,1107.9 L1648.1,1127.7 L1649.1,1147.5 L1650.2,1167.4 L1651.2,1187.2 L1652.3,1207.1 L1653.3,1226.9 L1654.4,1246.8 L1655.4,1266.6 L1656.5,1286.4 L1657.7,1306.3 L1659.0,1326.1 L1660.3,1346.0 L1661.8,1365.8 L1663.5,1385.6 L1665.4,1405.5 L1667.5,1425.3 L1669.7,1445.2 L1672.0,1465.0 L1678.7,1511.4" stroke-dasharray="0 8.897"/>
</g>
</g>
<rect x="531.5" y="1486" width="813" height="293.5" fill="#fff" stroke="#000" stroke-width="5.5"/>
<line x1="624" y1="1536" x2="738" y2="1536" stroke="#00B050" stroke-width="12.5" stroke-linecap="round"/>
<line x1="624" y1="1632" x2="738" y2="1632" stroke="#0000FF" stroke-width="12.5" stroke-linecap="round"/>
<line x1="625.4" y1="1731" x2="733" y2="1731" stroke="#000" stroke-width="5.5" stroke-linecap="round" stroke-dasharray="0 8.93"/>
<g fill="#000"><rect x="292.50" y="1774" width="5" height="47"/>
<rect x="587.90" y="1774" width="5" height="47"/>
<rect x="883.30" y="1774" width="5" height="47"/>
<rect x="1178.70" y="1774" width="5" height="47"/>
<rect x="1474.10" y="1774" width="5" height="47"/>
<rect x="1769.50" y="1774" width="5" height="47"/>
<rect x="351.33" y="1778" width="5.5" height="19"/>
<rect x="410.41" y="1778" width="5.5" height="19"/>
<rect x="469.49" y="1778" width="5.5" height="19"/>
<rect x="528.57" y="1778" width="5.5" height="19"/>
<rect x="646.73" y="1778" width="5.5" height="19"/>
<rect x="705.81" y="1778" width="5.5" height="19"/>
<rect x="764.89" y="1778" width="5.5" height="19"/>
<rect x="823.97" y="1778" width="5.5" height="19"/>
<rect x="942.13" y="1778" width="5.5" height="19"/>
<rect x="1001.21" y="1778" width="5.5" height="19"/>
<rect x="1060.29" y="1778" width="5.5" height="19"/>
<rect x="1119.37" y="1778" width="5.5" height="19"/>
<rect x="1237.53" y="1778" width="5.5" height="19"/>
<rect x="1296.61" y="1778" width="5.5" height="19"/>
<rect x="1355.69" y="1778" width="5.5" height="19"/>
<rect x="1414.77" y="1778" width="5.5" height="19"/>
<rect x="1532.93" y="1778" width="5.5" height="19"/>
<rect x="1592.01" y="1778" width="5.5" height="19"/>
<rect x="1651.09" y="1778" width="5.5" height="19"/>
<rect x="1710.17" y="1778" width="5.5" height="19"/></g>
<g font-family="'Liberation Sans', Arial, Helvetica, sans-serif" font-weight="bold" fill="#000">
<text transform="translate(120.48,96.17) scale(0.6290,0.8310)" font-size="100">6.00</text>
<text transform="translate(121.12,287.95) scale(0.6257,0.8310)" font-size="100">5.90</text>
<text transform="translate(121.12,479.73) scale(0.6257,0.8310)" font-size="100">5.80</text>
<text transform="translate(121.12,671.51) scale(0.6257,0.8310)" font-size="100">5.70</text>
<text transform="translate(121.12,863.29) scale(0.6257,0.8310)" font-size="100">5.60</text>
<text transform="translate(121.12,1055.07) scale(0.6257,0.8310)" font-size="100">5.50</text>
<text transform="translate(121.12,1246.85) scale(0.6257,0.8310)" font-size="100">5.40</text>
<text transform="translate(121.12,1438.63) scale(0.6257,0.8310)" font-size="100">5.30</text>
<text transform="translate(121.12,1630.41) scale(0.6257,0.8310)" font-size="100">5.20</text>
<text transform="translate(121.12,1822.19) scale(0.6257,0.8310)" font-size="100">5.10</text>
<text transform="translate(1826.92,96.17) scale(0.6456,0.8310)" font-size="100">62</text>
<text transform="translate(1827.58,311.91) scale(0.6394,0.8429)" font-size="100">57</text>
<text transform="translate(1827.58,527.67) scale(0.6394,0.8310)" font-size="100">52</text>
<text transform="translate(1828.23,744.25) scale(0.6333,0.8551)" font-size="100">47</text>
<text transform="translate(1828.23,960.00) scale(0.6333,0.8429)" font-size="100">42</text>
<text transform="translate(1828.23,1174.92) scale(0.6333,0.8310)" font-size="100">37</text>
<text transform="translate(1828.23,1390.67) scale(0.6333,0.8310)" font-size="100">32</text>
<text transform="translate(1827.58,1607.25) scale(0.6394,0.8429)" font-size="100">27</text>
<text transform="translate(1827.58,1823.00) scale(0.6394,0.8429)" font-size="100">22</text>
<text transform="translate(277.66,1918.87) scale(0.6596,0.8310)" font-size="100">0</text>
<text transform="translate(557.48,1918.87) scale(0.6198,0.8310)" font-size="100">10</text>
<text transform="translate(852.19,1918.87) scale(0.6365,0.8310)" font-size="100">20</text>
<text transform="translate(1147.64,1918.87) scale(0.6314,0.8310)" font-size="100">30</text>
<text transform="translate(1442.54,1918.87) scale(0.6314,0.8310)" font-size="100">40</text>
<text transform="translate(1739.02,1918.87) scale(0.6269,0.8310)" font-size="100">50</text>
<text transform="translate(756.64,2028.90) scale(0.6233,0.8377)" font-size="100">Elapsed Time (hrs)</text>
<text transform="translate(92.90,1244.61) scale(0.6507,0.8143) rotate(-90)" font-size="100">Thickness (mm)</text>
<text transform="translate(2045.00,1251.71) scale(0.6522,0.8121) rotate(-90)" font-size="100">Temperature (°C)</text>
<text transform="translate(751.19,1558.90) scale(0.5353,0.7217)" font-size="100">at 14MPa &amp; TR 55°C</text>
<text transform="translate(751.20,1656.20) scale(0.5329,0.7319)" font-size="100">at 7MPa &amp; TR 55°C</text>
<text transform="translate(752.37,1753.90) scale(0.5332,0.7246)" font-size="100">Thermal cycles</text>
</g>
</svg>
</body></html>
